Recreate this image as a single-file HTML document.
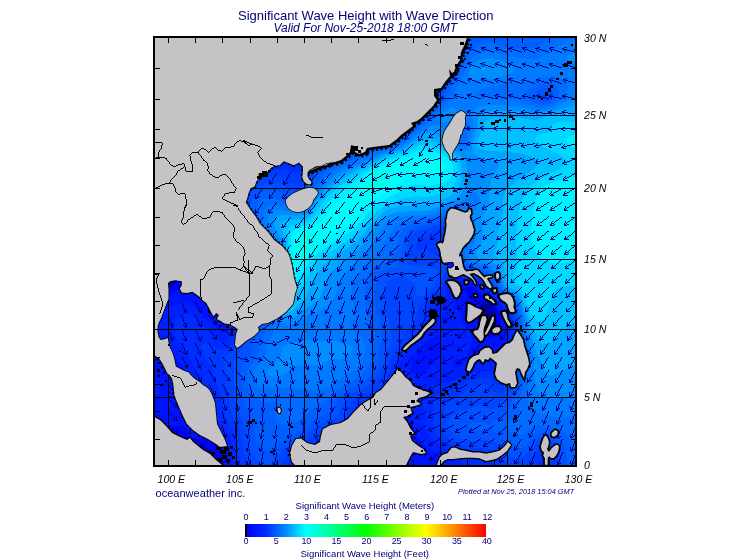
<!DOCTYPE html><html><head><meta charset="utf-8"><title>Significant Wave Height with Wave Direction</title>
<style>
html,body{margin:0;padding:0;background:#fff}
body{width:755px;height:560px;position:relative;overflow:hidden;font-family:"Liberation Sans",sans-serif;color:#000078}
.t{position:absolute;white-space:nowrap;line-height:1}
.i{font-style:italic;color:#000;font-size:10.6px}
.n{font-size:9px;letter-spacing:-0.2px;color:#000070;transform:translateX(-50%)}
#bar{position:absolute;left:245px;top:524px;width:241px;height:13px;background:linear-gradient(to right,#000 0,#000 2px,#0000ff 2px,#0028ff 20px,#008cff 41px,#00ffff 61px,#00ff80 91px,#00ff00 121px,#80ff00 151px,#ffff00 181px,#ff8000 211px,#ff0000 241px)}
</style></head><body>
<svg width="755" height="560" viewBox="0 0 755 560" style="position:absolute;left:0;top:0">
<defs><clipPath id="fr"><rect x="155" y="38" width="420" height="427"/></clipPath></defs>
<g clip-path="url(#fr)" shape-rendering="crispEdges">
<rect x="155" y="38" width="420" height="427" fill="#0000a0"/>
<path d="M433.5 36 577 36 577 466 217.7 466 216.8 456 215 452.8 211 450.1 203 448.4 191 448.5 185 447.9 167 441.7 153 439.8 153 296.1 165 290 173 285 185.5 276 187.6 274 190.2 270 191.5 266 192.3 260 193.2 230 195.3 214 197.3 206 200.1 198 203.9 190 207.6 184 215.7 174 225 165.7 237 158.1 249 152.9 265 149 293 146.3 303 144.6 329 137.6 367 128.8 381 124.1 389 119.9 399 112 408.8 102 416.9 92 423 82.2 427 73.8 430.4 64 432.3 54ZM484 302 481.5 304 480.4 306 480 308 481 312.5 485 320.7 487.3 324 491 326.4 493 326.6 495 326.1 496.3 324 497.1 320 496.6 316 495 311.2 493 307 490.9 304 487 301.8Z" fill="#0000ff" fill-rule="evenodd"/>
<path d="M435.7 36 577 36 577 466 385.3 466 382 464 379 463.6 373.6 464 367.4 466 221.9 466 221.6 456 221 452 219 448 217 445.8 213 443 203 439.2 193 437.8 189 436.6 186.2 434 182.2 428 179 426.1 173 425.8 153 427.4 153 302.9 169 294.8 179 288.9 183 287.3 187 286.6 191 286.6 201 289.2 203 289 203.3 284 198.7 242 198.4 232 198.8 222 200.6 210 203.6 200 208.1 190 213.3 182 220.2 174 229.6 166 239.5 160 251 155.1 259 152.8 267 151.3 293 149 303 147.2 329 139.5 369 129.9 381 125.9 391 120.6 399.2 114 411.1 102 419.1 92 425 82.4 429.1 74 432.6 64 434.5 54ZM466.4 288 465.4 290 465.9 294 467 296.4 471.2 302 475 316.1 477.5 322 480.9 328 489 338 491 338.4 497 336.4 499 334.7 500.2 332 501.3 324 500.6 316 499.3 312 497 307.6 492.7 302 489 299.3 483 296 473.8 288 471 286.8 469 286.7Z" fill="#0013ff" fill-rule="evenodd"/>
<path d="M441 36 577 36 577 466 440.9 466 441 460 439.6 456 437 453.2 427 446.9 420.3 440 417.5 436 414.4 430 411 417.9 409 412.9 407 410.2 405 408.6 403 407.8 401 407.8 395 410.6 389 415.3 383 421 367.4 438 359 445 349 450.8 321.5 462 317.5 464 315.2 466 228.7 466 227.5 450 226.8 446 225 441.2 222.8 438 212.5 428 209.2 424 192.5 396 187.8 386 183.8 370 181 364.1 175 357.6 164 352 161 349.9 159 347.7 157.1 344 156.1 338 156.5 332 158.1 322 159.4 318 161.7 314 165 310.6 168.9 308 179 302.9 183 301.9 189 303.1 197 307.9 205.2 318 212.3 324 219 331 221 332.2 223 332.7 225 332.3 227 330.7 229 327.6 230.2 324 230.9 318 229.8 308 215.8 260 212.1 244 210.3 232 209.8 222 210.5 212 212.8 202 215.9 194 222 184 229.2 176 239.6 168 251 162.2 259 159.5 269 157.4 291 156.2 299 155 329.5 144 361 136.2 377 131.4 386.1 128 393.2 124 402.8 116 415 103.7 422.9 94 429.2 84 435.1 72 438.5 62 439.7 54ZM460.8 282 456 284 454.4 286 453.7 288 453.5 292 455 306 455.6 308 457 309.9 461.6 314 462.1 316 461.9 322 469.5 332 471.4 336 472.2 340 471 345.9 467 355.7 465 357.7 455 359.5 453 361.7 453 364 454.3 366 457 367.5 459 367.4 461 366.5 467 360.5 471 360.3 487 362.1 493 360.7 497 357.1 503 347.3 505.6 342 506.7 336 506.6 324 505.7 316 503.6 310 499.4 304 493 297.6 476.3 284 473 282.4 469 281.5ZM442.3 318 441.7 322 443 324.9 445 323.8 446.4 322 447.4 320 447.6 318 447 317 445 316.1 443 317ZM434.9 336 429 340.2 417.5 352 413.1 358 411.2 364 411.3 368 413 372.5 415 374.1 419 374.1 423 372.4 427 369.2 440.8 356 441.7 354 441.9 350 439.7 336 439 335 437 335ZM155 381.2 159 384 160 386 160.5 392 159 396.4 157 398 153 398.7 153 380.7Z" fill="#0020ff" fill-rule="evenodd"/>
<path d="M446 36 577 36 577 466 467.4 466 457 459.2 445 449 435 442 429.5 436 427.2 432 425.8 428 424.2 412 421.8 402 421.7 398 422.2 396 424.6 392 429 388.3 435 384.9 439 383.7 449.8 382 471 372.7 475 371.4 483 370.6 493 371.9 497 371.7 499.3 370 503 363.4 507 353 509.7 344 510.5 336 509.6 318 508.1 312 504.9 306 485 286.8 479 282 475 280 471 278.7 459 277.5 453 278.5 451 279.8 449.2 282 447 287.2 444.3 298 442.7 300 435 306.8 431.8 312 430.6 316 428.8 326 426 332 405.9 354 401.6 360 396.2 372 391.9 386 387.8 394 383 400 371 412 358.8 428 352.9 434 347 438.4 341 441.8 304.7 458 299 462 296.4 466 234.5 466 232.2 444 230.8 438 228.4 434 221.8 426 218.2 420 215.9 414 213.2 402 211.6 398 202.3 384 188.6 356 177 340 175.3 336 174.4 330 174.6 324 175 322 177 318.6 181 315.6 187 314.1 191 314.8 193.3 316 200.5 324 208.2 330 215.5 338 221 341.5 225 341.7 229 339.2 232.9 334 235.7 328 236.9 324 237.5 318 236.8 308 226.9 260 221.4 236 219.6 224 219.5 216 220.3 208 222.4 200 225 194 230.1 186 237 178.7 245 172.7 255 167.6 263 165 271 163.5 279 163 293 163.6 299 162.6 305 160.1 319 152.8 329 148.7 339 145.5 361 140 380.4 134 389 130.7 395 127.3 405 118.9 419.9 104 426.4 96 432.8 86 439 74 443.1 64 444.6 56Z" fill="#002dff" fill-rule="evenodd"/>
<path d="M449.3 58 451.1 36 577 36 577 466 551.2 466 550.5 462 549 458 547 456.2 545 455.9 543 456.7 541 458.4 537 464 536.2 466 495.3 466 492.1 462 487 459 469 455 459 451.2 442.1 440 436.6 434 434 428 433.3 422 433.9 412 433 402 434.1 398 435.7 396 439 393.8 453 389.6 467 381.3 477 377.9 483 377.4 487 378.1 491 379.9 497 384.7 499 385.5 501 385.3 503 384.1 505.2 380 513 346 513.5 338 512.6 320 511 312 508.2 306 485.9 284 480.9 280 477 278 471 276.1 455 273.6 451 274.4 447 277.8 444.4 282 439 293.7 427.7 306 424.1 314 422.4 326 421 329.4 419 332 411 339.5 398.7 354 390.6 370 385.4 382 381.8 388 375 395.6 361 406.5 358.5 410 352.9 420 347 426.9 343 430.1 337 433.6 323 440 295.5 454 293 456 291 458.4 289 462 287.6 466 240.9 466 238 454 237 442 235.7 436 234 432 227.7 422 224.9 416 223.2 410 221 396 215.7 382 214.4 372 212.5 368 204.8 358 202.8 354 201 348 201 346 202 344 203 343.3 205 343.3 207 343.9 213 347.7 217 349.2 223 349.2 227 347.7 231 344.9 235 340 239.7 332 242.5 324 243.2 318 242.9 312 238.1 282 235.6 258 229.5 230 228.1 220 228.6 208 230 202 232.5 196 237 188.9 243 182.6 251 176.8 259 172.8 267 170.5 277 169.4 283.8 170 293 172.6 297 172.7 301 171 317 159.3 329 153.1 339 149.5 361 143.6 385 135.9 391 133.7 397 130.1 406.5 122 423.1 106 429.6 98 435 89.8 444.6 72 448.1 64Z" fill="#003aff" fill-rule="evenodd"/>
<path d="M456.4 36 577 36 577 466 556.7 466 555.8 456 553.6 450 551 447.3 549 446.2 545 445.6 543 446 539 448.5 531 458.4 523.4 466 510.2 466 503.4 460 497 453.1 493 450.1 487 448.6 471 447.8 463 445.9 457 443.3 451 439.7 446.3 436 443 432 440.9 426 441.2 420 445.9 406 449.3 402 459 396.3 469 389 477 385.6 481 385 485 385.3 487 386.2 493 391.5 497 393.1 501 392.7 503 391.7 507 388 509.2 384 510.4 380 515.1 356 516.2 346 516.1 338 514.8 318 512 308 509.7 304 499 294.6 487 281.6 482.5 278 478.5 276 473 274.2 455 269.5 451 269.1 449 269.4 447 270.6 445 272.9 435 291.6 424.3 302 419.8 308 416.8 314 413.5 324 405.8 332 401.7 342 393.8 352 389 363.3 379 381.4 375 386.4 369 391.7 357 398 353 401.1 351.2 404 347.2 414 342.9 420 339 423.4 335 425.9 321 432.3 305.8 442 290.7 450 288.3 452 285.3 456 280.8 466 249.2 466 244 454 240.9 436 239.3 430 232.4 416 229.8 408 226.5 386 224.2 364 224.6 360 225.4 358 228.7 354 236.6 346 243.1 336 246.9 328 248.2 322 248.1 312 244 282 243.1 252 237.4 228 236 218 236.3 208 237.7 202 239.4 198 243.2 192 251 184.6 259 179.6 267 176.9 275 175.8 281 176.4 287 179.1 295 184.8 297 185 299 184.2 313.4 168 321 162 327.8 158 341 152.7 361 147 391 137.1 395 135.3 399 132.6 426.1 108 431.1 102 437 93.5 452.3 66 453.7 60ZM439.1 228 429 233.2 422.3 236 419.9 238 416.4 244 416.1 248 417 250 419 250.7 425 250.1 427 250.7 437 256 439 256.2 441 255.3 443 252.7 449 241.9 450.4 238 450.8 234 449.5 230 447 227.6 443 227Z" fill="#0046ff" fill-rule="evenodd"/>
<path d="M462.2 36 577 36 577 466 561.1 466 560.8 456 558.9 448 557 444.7 555 442.5 553 441 549 439.2 543 438.6 539 440 536.7 442 529 451.1 525 454.9 519 457.8 515 457.9 511 456.4 509 455 499 445 493 441.1 487 440.1 473 440.8 466.4 440 461 438.2 456.6 436 453 433.5 449.9 430 448.3 426 448.5 422 451 416.9 455 413.2 459 411.4 467 409.8 477 405.9 481 405.9 489 408.6 493 409.1 497 407 505 398.6 511.1 390 514.3 382 518.8 356 519.1 346 516.9 318 514.2 308 512.5 304 510.9 302 500.7 294 489 280.4 485 276.7 479 273.6 461.1 268 455 264.6 452.3 262 450.8 258 450.9 254 455.7 238 455.8 232 454.6 228 451.1 224 449 222.9 445 222.4 441 223.3 431 227.3 421 229.4 417 230.9 415 232.2 411.4 236 409 240 407.6 244 406.2 258 407 262.8 409 265.5 413 266.6 423 265.4 429 265.7 434.8 268 437 270 437.7 272 437.1 276 433 286 430.1 290 423 295.7 419 297.6 417 297 416.4 296 415.9 288 414.4 284 411 280.5 407 278.1 405 277.3 401 277 394.3 278 389.8 280 387 283.6 384.2 294 383.8 302 385.4 310 390 324 392.2 340 390.8 344 387.5 348 386.6 350 386.6 356 385 361.1 379 372 375 377.8 369.4 384 365 387.5 353 393.1 348.5 396 345.3 400 339.8 412 335 417.3 330.6 420 319 425 303 437.1 287 446.2 282.6 450 275 460.1 271 463.4 267 464.7 265 464.4 261 462.8 257 460.1 253.3 456 249.2 448 247.1 440 244.9 426 237 407.7 235 400 234.3 394 233.5 366 234 360 236 356 242.8 348 250.4 334 252.9 328 253.8 322 253.3 314 250.2 294 249.4 284 249.5 274 251.2 256 251.1 250 249.8 244 245 228 243.2 216 243.5 208 245.8 200 249.8 194 255 189.2 261 185.5 269 183 275 182.5 279 183.1 283 184.6 289.5 190 293 191.9 297 192.2 299 191.6 303.7 188 312.5 176 317.8 170 323 165.6 329 161.7 341 156.3 361 150.4 379 143.8 391.8 140 399 136.4 429 110 439.4 96 456.7 66 460.4 44ZM545 93.7 542.5 96 544.1 98 545.8 98 547.6 96 547 94.4Z" fill="#0053ff" fill-rule="evenodd"/>
<path d="M471 36 577 36 577 466 567.8 466 566.1 452 563.7 444 561.2 440 559 437.8 555 435.2 551 433.5 545 432.2 539 432.9 535 435.3 525 445.5 521 448 517 448.8 513.9 448 511 446.1 495 431.1 489 427 483 429.3 479 430.1 474.2 430 468.8 428 468 426 470.5 424 477 421.7 482.7 422 489 425.1 491 424.6 501 417 508 410 510 406 512.4 398 516.1 390 518.1 384 519.8 370 522.2 358 521.9 346 518.9 318 514.9 304 511.7 300 505 295.5 501 292 491 279.2 487 275 481.6 272 465 266.7 460.5 264 458.4 262 456.3 258 456 254 456.7 250 460.3 238 460.7 234 460.3 230 459 226 456.3 222 453 219.5 449 218.4 443 219 431 223.8 417 226.5 410.3 230 406.6 234 404.4 238 403.3 242 400.5 260 398.8 264 395 267.2 385 270.3 381.3 272 378.8 274 377.3 276 376.1 280 374.8 300 375.7 306 379 318 382.6 338 382.4 340 378.9 348 379.4 356 378.9 360 375.1 368 371 374 365.5 380 361 383.5 349 389.2 343 393.5 337.5 400 332.9 408 329 412 315 419.4 305 428.1 299.6 432 291 437.4 281 442.2 271 448.9 267 449.9 263 448.8 259 445.3 256.1 440 255.2 436 254.6 428 253.4 422 251.1 416 245 403.8 242.8 398 241.3 390 240.6 380 240.8 372 242.1 366 244.4 362 249 357.2 250.8 354 252.8 344 258.1 332 259.6 326 259 318 255.1 296 254.2 284 255.1 272 258.6 256 259.3 250 258 244 252.5 230 250.9 222 250.2 210 250.8 206 252.1 202 255 197.4 259 193.8 263 191.5 269 190 273 189.9 277 190.8 286.4 196 291 197.5 295 197.7 299 196.8 303 194.5 305.7 192 316.1 178 321 172.5 326.2 168 331 164.8 337 161.7 345 158.5 363 152.9 381 145.8 395 141.8 401 138.4 431 112.8 442 98 452.1 80 459 69.7 465 48 467 43.1ZM543.3 88 539 90 536.7 92 535.3 94 535 96 535.6 98 539 101.1 543 102.4 547 102.1 550.9 100 552.5 98 553.4 96 553.4 92 552.2 90 549 87.9 547 87.5Z" fill="#0060ff" fill-rule="evenodd"/>
<path d="M548.9 40 553.6 36 577 36 577 452.2 575 449.4 569.5 438 566.4 434 561 430.4 551 426.8 543 425 539 425 535 425.9 530.6 428 523 434.4 519 435.6 517 435.5 512.8 434 509 431.1 507 428 506.8 426 507.6 424 509.4 422 517 416.4 519 412.3 519 400 522.4 386 523.5 370 525.6 360 525.5 352 520.2 316 516.8 304 515 300.6 512.2 298 503 291.8 489 273.3 487 271.7 483 269.8 469 265.7 465 263.5 461.6 260 460.7 258 460.3 254 461 250 465 238 465.3 234 464.6 228 462.5 222 459.7 218 455 215.1 451 214.4 447 214.5 443 215.5 431 220.7 419 222.5 413 223.9 408 226 405 227.9 401.1 232 399.1 236 396.9 248 395 255.2 393.5 258 391.5 260 389 261.4 379 264.7 375 266.5 370.4 270 367.7 274 365.7 282 364.7 298 368.5 314 369.3 326 372 336 372.6 342 372 356 371.3 360 368.7 366 365 371.3 359 377.2 341 387.6 323 402.4 309 411.2 299 420 296 422 291 424.3 287 425.1 283 425 279 423.2 276.4 420 274.5 414 275.2 410 277.4 406 277.7 404 277 402.8 275 402 269 403 265 402.5 261 401 257 398.5 253 394.8 249.9 390 248.3 386 247 380 246.9 374 247.8 370 249.9 366 254.9 360 257.3 356 258.7 352 260.2 344 265.3 332 266 328 265.3 322 260.1 300 259.1 292 258.8 284 259.4 276 260.5 270 262.3 264 267 252 267.7 248 266.7 244 259.5 232 257.7 226 257 220 257 210 257.7 206 259.7 202 263 199 265 198.1 269 197.5 273 198 281 201 285.5 202 293 202.7 299 201.8 305 198 309 193.7 322.8 176 327.1 172 333 167.8 345 162 363.1 156 381 148.4 396.2 144 401 141.5 423 123.1 431 117.3 434.4 114 447.4 96 455 81.5 461 72.5 465.4 60 468.3 54 471 50.4 475 47.1 483 44 491 43.1 497 44.1 509 48.6 513 48.7 523 47.7 533 48.1 539 46.1ZM540.6 84 528.4 90 525.6 92 524.5 94 525 96 526.8 98 532.2 102 539 104.8 543 105.2 547 104.7 553.2 102 556.9 98 558.6 94 558.8 90 557 86.1 553 83.3 549 82.3 545 82.6ZM460.6 130 459 131.5 458.3 134 459 137 461 137.4 463 134.2 463.4 132 463 129.9Z" fill="#006dff" fill-rule="evenodd"/>
<path d="M567 41.5 577 39 577 418.3 571 417.3 557 416.9 541 413.7 535 411.3 533 409.7 530.1 406 528.4 402 527.5 396 528.2 384 527.4 372 529.5 360 529.3 356 523.7 328 522.5 318 517.8 302 515 297.9 507 292.9 503.4 290 493 273.9 489 269.6 485 267.5 471.8 264 468.2 262 466.1 260 464.9 258 464.4 254 465.5 250 469.7 240 470.2 234 469.5 228 467.4 220 464.9 214 463 211.8 461 210.7 457.5 210 453 210 447 211 443 212.2 431 217.7 409 220.8 403 222.4 399 224.3 394.5 228 386.8 238 384.4 242 380.6 252 376.5 256 365.4 264 361.6 268 358.9 272 354.5 280 351.9 288 351.5 294 352.1 300 355.8 314 355 316.9 351.4 322 350.6 324 350.6 326 352.7 330 361 336.8 363 339.3 364.8 344 365.1 348 364.4 354 362.4 360 359 365.7 355 369.8 341 378.5 331 385.8 325 388.4 319 389.7 313 390 287 388.4 267 388.6 261 387.1 257 384.1 255 381.2 253.8 378 253.7 372 255.6 368 262.8 360 265.2 356 268.2 344 273 334 273.9 330 273 326 268.3 314 265.4 304 263.7 294 263.2 284 263.9 276 265.9 268 268.3 262 274.8 250 275.7 246 275.3 244 274 242 268.3 236 265.4 232 263.1 226 262.5 222 262.6 216 263.2 212 265 207.8 267 205.9 271 204.8 293 207.1 297 206.9 301 205.9 304.2 204 307 201.4 325 178.8 330.3 174 335 170.7 348.6 164 365 158.2 383 150.2 397.4 146 403 143 425 125.2 435 118.8 437 116.6 442.4 108 454.4 94 458.1 84 464 74 468.6 62 471 58.6 475 55.4 483 52.8 491 51.8 497 52.6 507 56.2 511 57.1 531 59.1 537 58.9 543.9 56 561.5 44ZM546.9 76 541 77.4 535 80.2 531 81.4 525 82 509 82.3 497 85.7 483 87.9 479.4 90 475.4 94 475 95 471.9 96 468.6 98 469 98.8 471 98.6 472.2 98 473 96.7 477 96.2 483 96.9 493 99.1 509 99.3 517 101 537 107.5 543 107.7 549 106.6 555.5 104 560.4 100 566.2 92 567.8 88 568.1 86 567.7 84 566.4 82 561 78.3 555 76.3ZM460.5 120 455.4 124 451.8 128 450.8 130 450.4 134 451.6 138 454.3 142 457 144.5 461 146 463 145.5 465 143.5 469 133.1 469.7 128 469 124.5 467 120.9 465 119.3 463 119Z" fill="#007aff" fill-rule="evenodd"/>
<path d="M577 49.9 577 63.4 570 62 567.1 60 566.6 58 567.3 56 568.8 54 573 51.1ZM479 59.8 489 58.2 493 58.4 499 59.7 505 62 511.8 66 514 68 514.2 70 512.1 72 508.6 74 499 77.6 493 78.6 471 80.4 470.1 80 469 78 469.2 72 470.2 68 473 63.6 475 61.8ZM573 97.6 577 96.1 577 397.3 565 396.6 551 398.4 547 398.5 543 397.6 541 396.5 539 394.4 537 389.7 533.4 374 533.1 370 533.8 362 533.3 358 525.8 328 524.3 318 518.6 300 515 295.4 507 290.9 504 288 495 271.7 491 266.8 485 264 475 262 471.3 260 469.7 258 469 256 469.1 254 470.6 250 474 244 475.6 238 475.6 232 473.3 218 473.5 214 474.9 210 478 204 478.9 200 477.5 194 475 191.3 473 191.6 471 193 465 199.2 461 202.1 443 208.7 433 213.6 427 214.9 401 216.8 396.4 218 391 220.8 384.4 226 379 231.7 371.4 246 368.6 250 353.1 264 345.9 272 341 280 334 298 329.9 304 327 306.9 321 310.5 307 315.3 299 322 295 323.9 289 324.8 285 324.6 281 323.2 277 319.4 272.8 312 269.6 302 267.9 292 267.6 282 268.7 274 270.4 268 273 262 279.7 250 280.9 246 280.7 244 279 240.4 271.3 232 268.2 226 267.5 222 267.6 218 269 214 271 211.9 273 210.9 277 210.2 295 211.4 299 211.2 303 210.1 306.1 208 309 204.8 318.3 192 325 184 331 178.1 336.4 174 347.4 168 367 160.2 381 153.4 401 146.8 427 127.8 431 125.8 437 124.7 439 124.6 441 125.4 443 132 444.9 136 447.5 140 451 144 455 147.3 459 149.7 463 150.8 465 150.5 467.2 148 473.2 130 473.3 124 472.1 116 472.6 112 475 108.8 479 106.5 487 105.2 511 105.6 521 106.9 535 110.6 541 110.5 551 108.5 557 106.6ZM449 107.7 453 106.7 455 107.8 456 110 455.5 114 453 118 451 119.8 447 122.2 443 123.1 442.1 122 442 120 443.2 114 445 111ZM303 340 309 339.8 321 341.5 333 340.8 339.9 342 347.2 344 350.8 346 351.9 348 351.8 350 351 352.3 349 355 347 356.7 343 358.6 339 359.2 331 359.2 321 364 317 364.9 305 364.3 299 365.2 295 366.9 284.9 374 279 376.3 275 376.8 271 376.4 269 375.6 267.3 374 266.9 372 269.3 368 279.7 358 281 356 282.6 348 284.1 346 287 344.7 295 343Z" fill="#008dff" fill-rule="evenodd"/>
<path d="M481 67.9 483 67.4 486.5 68 485 70 483 70.3 480.8 70ZM559 109.7 577 104.5 577 365.3 573 367.4 563 370.5 555 374.2 551 375.2 549 375.1 547 374.4 545 372.9 543.2 370 540.3 360 536.2 352 527.7 326 526.3 318 523.3 310 521.4 302 519 296.9 515 292.6 509 289.9 506.5 288 505 286.1 497.6 268 495 264.4 489 260.7 478.7 258 476 256 475.8 254 476.5 252 480.3 246 482.6 240 482.9 234 481.9 222 482.1 218 483 215.4 487.3 208 488.5 204 489.2 198 489.4 188 490.1 184 493 176.6 498.2 168 498.7 166 498.3 164 496.7 162 495 161.1 483 159.1 477 156.7 475 155.1 473 152.1 472 146 472.6 142 476.4 132 478.7 116 480.2 114 483 112.3 487 111.1 493 110.4 517 110.9 523 111.7 531 113.9 537 114.3ZM429 131.8 431 131.4 433 131.6 435 132.8 445.9 144 462 156 465 160 466 162 466.8 166 466.4 180 464.2 188 460.7 194 457 197.6 453.2 200 431 210 423 211 399 211.7 393 213.2 387 216.1 381 220.9 374.3 228 365 242.1 361 247 344 260 337.2 266 333.5 270 328.2 278 321.4 294 319.3 298 317 300.7 312.7 304 303 309.8 296.4 316 293 318.3 291 318.9 287 318.8 283 317 279 312.5 276 306 273.3 296 272.2 288 272.3 278 274 270 276.2 264 282.9 250 283.8 246 283.4 242 282.7 240 275.8 230 273.9 226 273.3 222 274.4 218 277 215.8 281 214.8 297 215.6 301 215.3 305.4 214 309 211 317.7 198 325 189 332 182 339 176.7 350.7 170 367 162.9 383 155 399 150 403 148.3 415 139.9Z" fill="#00a6ff" fill-rule="evenodd"/>
<path d="M549 115.1 577 112.1 577 321.9 573 322.8 569 324.9 555 339.8 549 343.6 545 344.6 543 344.2 541 343 537.1 338 535 332 531 325.6 529 318 525.4 310 523.6 302 520 294 517 290.7 509 286.9 507 284.1 504.8 274 504.3 266 502.2 262 495.8 256 494.5 254 494.3 252 497.1 246 498.1 242 498.6 230 502.3 216 503.1 200 503.7 196 505 192.4 507 189.5 510.8 186 534.6 168 536.4 166 537.4 164 537.1 162 535.4 160 532.7 158 529 156 523 154 503 150.9 487 150.8 483 150.2 478.7 148 477.4 146 476.9 144 477.2 142 484 124 487 120 490.8 118 495 117.3 507 118 519 117.4 529 119.5 535 119.8 539 119.1ZM423 139.8 429 138.6 433 139.9 453 153.1 458.4 158 461.2 164 461.9 172 460.7 182 459.4 186 457 190.3 453.2 194 450.1 196 439 201.8 433 204 425 205.4 407 205.6 397 206.7 389 209.2 383 212.7 377 217.9 371.2 224 357 241.3 327.2 262 323 265.6 319.7 270 316.2 276 305.8 298 293 310.4 291 311.7 289 312 287 311.2 284.1 308 281 302 278 292 276.7 284 276.9 276 278 270 284.9 252 286.1 246 285.9 242 285 238.1 280.9 228 280.9 224 282.1 222 287 220.2 301 219.2 307 217.6 311.3 214 319 201.8 325 194.1 333 186.1 341 179.9 354.1 172 381.9 158 387 155.8 403 150.8 415 143.3Z" fill="#00c0ff" fill-rule="evenodd"/>
<path d="M561 121.9 577 121.8 577 286.6 569 285.8 565 285.9 561 286.8 557 288.9 554.3 292 551.1 298 547.9 310 545 316.6 543 319.2 541 320.4 539 320.7 537 320.2 535 318.8 529 310.8 526.2 300 521.9 290 519 286.7 514.4 284 512.6 282 513 277.1 515.9 270 516.8 266 516.3 234 516.8 224 518.7 212 521.4 202 524.9 194 529 188 532.8 184 537 180.7 557.9 170 566.2 164 567.6 162 566.7 160 557.9 154 541.7 146 536.9 142 535.3 140 535.3 138 537.3 136 547 131.9 549 130.6 553.5 124 557 122.4ZM419 145.5 425 144.3 431 145.2 443 150.6 451 155.5 453.9 158 455.4 160 457 164 457.7 172 456.2 180 455 183.4 453 186.6 449 189.8 435 195.6 427 196.9 415 196.1 411 196.6 391 202.7 383 206.9 374.4 214 357 233.1 353 236.7 333.7 250 323 256.1 318 260 310.5 270 301 287.3 297 293.1 293 295.5 291 295.8 289 295.2 287 293.6 285 290.9 283 286.4 281.9 282 281.5 276 282.6 268 287.7 250 288.2 242 287.3 232 287.5 230 289 227.1 293 224.9 305 221.9 311 219 315.5 214 323.2 202 331 193.3 341 184.9 357.6 174 383.2 160 389 157.7 405 152.8Z" fill="#00d9ff" fill-rule="evenodd"/>
<path d="M571 135.6 577 134.5 577 148.5 573 147.5 570.3 146 568.2 144 567.2 142 567 140 567.8 138ZM421 149.9 427 149.8 437 152.4 444.8 156 450.1 160 452.4 164 453.1 170 451.7 176 449 180.2 445 182.7 431 185.6 425 185.5 415 184.3 411 184.9 407 186.8 399 192.2 385 199.6 377 205.2 371.4 210 359 223.6 352.3 230 331 244.4 323 249.1 317 254 309 262.4 299 278 297 280.3 295 281.7 293 282.3 291 281.9 289 280.2 287 275.6 286.9 268 289.8 252 291.1 236 292.6 232 294.4 230 299 227.4 311 222.9 315 220.2 320.2 214 327 203.9 332.4 198 341 190.9 353 182.8 364.5 174 377.4 166 385 162 407 155.5 417 151ZM569 177.7 577 176.5 577 259 567 262.1 561 263.1 555 263 549 262 543 259.8 539 256.9 535.5 252 533 245.1 531.6 236 531.4 228 533.1 212 534.8 202 536.9 196 539.1 192 542.5 188 545.1 186 555 181.1Z" fill="#00f2ff" fill-rule="evenodd"/>
<path d="M417 157.6 425 156.5 431 157.2 437 158.6 440.3 160 443 162 445 165.6 445 168.4 444.3 170 442.4 172 437 174.3 429 175.4 413 175.5 409 176.2 405 177.9 395 186.4 367 205.2 364 208 357 217.3 352.4 222 347 226.1 335 232.3 329 236.4 319 244.8 312.8 252 304.4 260 299 266.3 297 268.1 295 268.8 294.2 268 293 266.1 292.4 262 292.8 244 294.2 238 297 233.7 302.7 230 315 225.5 320.7 222 324.4 218 331 208 335 203.5 341 198.9 355 190.2 366 178 379.6 168 383.2 166 389 163.9 407 160.7Z" fill="#00fff6" fill-rule="evenodd"/>
<path d="M385 169.3 389 168.5 391 168.6 394 170 395 172 395 174 393 178.8 389 182.6 375 191.5 371 192.5 368.9 192 367.5 190 367.4 188 368.7 184 370.1 182 377.9 174 381 171.5ZM305 233.9 309 232.7 313 232.6 315.4 234 316 236 315.7 238 313.2 244 309 249.6 303 254 301 254.9 299 255.1 297 252.7 296.4 250 296 246 296.7 242 299 238 301.2 236Z" fill="#00ffe6" fill-rule="evenodd"/>
</g>
<g clip-path="url(#fr)">
<path d="M168.0 425.1L177.4 433.9M172.9 432.8L177.4 433.9L176.1 429.5M168.0 411.4L177.2 420.5M172.7 419.3L177.2 420.5L176.0 416.1M168.0 397.8L177.2 406.9M172.7 405.7L177.2 406.9L176.0 402.5M168.0 384.1L176.5 393.9M172.2 392.4L176.5 393.9L175.6 389.3M168.0 329.0L172.8 341.2M169.2 338.3L172.8 341.2L173.5 336.6M168.0 315.1L172.5 327.4M169.0 324.5L172.5 327.4L173.3 322.9M181.6 425.1L190.6 434.3M186.2 433.0L190.6 434.3L189.5 429.8M181.6 356.6L187.7 368.2M183.8 365.7L187.7 368.2L187.9 363.6M181.6 342.8L186.9 354.9M183.2 352.2L186.9 354.9L187.4 350.3M181.6 329.0L186.1 341.4M182.6 338.5L186.1 341.4L186.9 336.9M181.6 315.1L186.2 327.5M182.7 324.5L186.2 327.5L187.0 322.9M181.6 301.2L186.0 313.4M182.5 310.5L186.0 313.4L186.8 308.9M195.2 438.7L204.8 447.2M200.3 446.3L204.8 447.2L203.4 442.9M195.2 370.4L201.7 381.8M197.8 379.4L201.7 381.8L201.8 377.2M195.2 356.6L200.8 368.6M197.0 366.0L200.8 368.6L201.2 364.0M195.2 342.8L200.7 354.9M197.0 352.2L200.7 354.9L201.2 350.3M195.2 329.0L200.8 341.0M197.0 338.4L200.8 341.0L201.2 336.4M195.2 315.1L201.0 327.0M197.2 324.4L201.0 327.0L201.3 322.4M195.2 301.2L201.1 312.7M197.3 310.2L201.1 312.7L201.4 308.1M208.8 384.1L215.4 395.5M211.4 393.2L215.4 395.5L215.4 390.9M208.8 370.4L215.6 381.7M211.6 379.5L215.6 381.7L215.5 377.1M208.8 356.6L215.5 368.1M211.5 365.8L215.5 368.1L215.5 363.5M208.8 342.8L215.5 354.3M211.5 352.0L215.5 354.3L215.5 349.7M208.8 329.0L216.4 339.7M212.2 337.8L216.4 339.7L216.0 335.1M208.8 315.1L217.1 325.1M212.8 323.5L217.1 325.1L216.3 320.5M222.4 452.4L229.1 463.4M225.0 461.1L229.1 463.4L229.0 458.8M222.4 425.1L225.5 437.9M222.3 434.6L225.5 437.9L226.8 433.5M222.4 411.4L225.2 424.4M222.1 421.0L225.2 424.4L226.6 420.0M222.4 397.8L225.8 410.6M222.6 407.4L225.8 410.6L227.0 406.2M222.4 384.1L228.4 396.1M224.5 393.5L228.4 396.1L228.6 391.5M222.4 370.4L230.2 381.3M226.0 379.4L230.2 381.3L229.7 376.7M222.4 356.6L231.0 366.9M226.7 365.3L231.0 366.9L230.2 362.3M222.4 342.8L232.8 350.9M228.3 350.3L232.8 350.9L231.1 346.6M222.4 329.0L233.3 336.0M228.7 335.8L233.3 336.0L231.2 331.9M236.0 452.4L237.6 465.5M234.9 461.9L237.6 465.5L239.4 461.3M236.0 438.7L236.3 452.0M233.9 448.1L236.3 452.0L238.5 448.0M236.0 425.1L234.8 438.5M232.9 434.3L234.8 438.5L237.5 434.7M236.0 411.4L236.2 425.0M233.9 421.1L236.2 425.0L238.5 421.0M236.0 397.8L238.2 411.2M235.3 407.7L238.2 411.2L239.8 406.9M236.0 384.1L240.8 396.8M237.3 393.9L240.8 396.8L241.6 392.3M236.0 370.4L244.9 380.7M240.5 379.2L244.9 380.7L244.0 376.2M236.0 356.6L249.0 360.8M244.5 361.8L249.0 360.8L245.9 357.4M249.6 452.4L247.2 465.7M245.7 461.4L247.2 465.7L250.2 462.2M249.6 438.7L247.4 452.2M245.8 447.9L247.4 452.2L250.3 448.7M249.6 425.1L247.5 438.6M245.8 434.3L247.5 438.6L250.4 435.0M249.6 411.4L248.8 425.2M246.7 421.0L248.8 425.2L251.3 421.3M249.6 397.8L250.1 411.6M247.6 407.7L250.1 411.6L252.2 407.5M249.6 384.1L252.6 397.7M249.5 394.3L252.6 397.7L254.0 393.3M249.6 370.4L256.6 382.4M252.6 380.1L256.6 382.4L256.6 377.8M249.6 356.6L262.8 360.4M258.3 361.5L262.8 360.4L259.6 357.1M249.6 342.8L263.2 341.6M259.5 344.3L263.2 341.6L259.1 339.7M249.6 202.1L241.7 213.3M242.1 208.8L241.7 213.3L245.9 211.4M263.2 452.4L260.6 465.8M259.1 461.5L260.6 465.8L263.6 462.4M263.2 438.7L260.3 452.2M258.9 447.9L260.3 452.2L263.4 448.8M263.2 425.1L260.9 438.7M259.3 434.4L260.9 438.7L263.8 435.2M263.2 411.4L261.7 425.2M259.9 421.0L261.7 425.2L264.4 421.5M263.2 397.8L262.9 411.7M260.7 407.7L262.9 411.7L265.3 407.8M263.2 384.1L264.5 398.1M261.8 394.3L264.5 398.1L266.4 393.9M263.2 370.4L266.9 384.0M263.6 380.8L266.9 384.0L268.1 379.6M263.2 356.6L273.9 365.6M269.4 364.8L273.9 365.6L272.4 361.3M263.2 342.8L277.0 344.5M272.8 346.3L277.0 344.5L273.4 341.8M263.2 329.0L274.5 321.1M272.6 325.2L274.5 321.1L269.9 321.5M263.2 216.5L254.7 227.7M255.3 223.1L254.7 227.7L258.9 225.9M263.2 202.1L255.2 213.6M255.6 209.0L255.2 213.6L259.4 211.7M263.2 187.7L255.4 198.9M255.8 194.3L255.4 198.9L259.5 196.9M276.8 452.4L274.4 465.8M272.9 461.5L274.4 465.8L277.4 462.3M276.8 438.7L274.3 452.3M272.7 448.0L274.3 452.3L277.3 448.8M276.8 425.1L274.5 438.8M272.9 434.5L274.5 438.8L277.4 435.2M276.8 397.8L276.4 411.7M274.2 407.6L276.4 411.7L278.8 407.7M276.8 384.1L277.7 398.2M275.1 394.3L277.7 398.2L279.7 394.1M276.8 370.4L279.8 384.3M276.7 380.9L279.8 384.3L281.2 379.9M276.8 356.6L287.8 365.5M283.3 364.8L287.8 365.5L286.2 361.2M276.8 342.8L289.7 337.1M287.0 340.8L289.7 337.1L285.1 336.6M276.8 329.0L281.6 315.8M282.4 320.3L281.6 315.8L278.1 318.7M276.8 230.8L268.1 242.2M268.7 237.7L268.1 242.2L272.3 240.5M276.8 216.5L267.6 227.5M268.4 223.0L267.6 227.5L271.9 225.9M276.8 202.1L268.5 213.3M269.0 208.8L268.5 213.3L272.7 211.5M276.8 187.7L269.0 198.9M269.4 194.3L269.0 198.9L273.1 196.9M276.8 173.1L269.5 184.4M269.8 179.8L269.5 184.4L273.6 182.3M290.4 438.7L288.5 452.4M286.8 448.1L288.5 452.4L291.3 448.7M290.4 425.1L288.5 438.8M286.8 434.6L288.5 438.8L291.3 435.2M290.4 411.4L289.2 425.3M287.3 421.2L289.2 425.3L291.9 421.5M290.4 397.8L290.7 411.7M288.3 407.8L290.7 411.7L292.9 407.7M290.4 384.1L292.0 398.1M289.3 394.4L292.0 398.1L293.8 393.9M290.4 370.4L292.8 384.4M289.8 380.8L292.8 384.4L294.4 380.0M290.4 356.6L293.1 370.6M290.1 367.1L293.1 370.6L294.6 366.2M290.4 342.8L304.0 347.0M299.5 348.0L304.0 347.0L300.8 343.6M290.4 329.0L290.4 314.9M292.7 318.9L290.4 314.9L288.1 318.9M290.4 315.1L277.4 321.5M279.9 317.7L277.4 321.5L282.0 321.8M290.4 245.0L282.2 257.4M282.5 252.8L282.2 257.4L286.3 255.4M290.4 230.8L281.8 242.7M282.3 238.2L281.8 242.7L286.0 240.9M290.4 216.5L281.7 228.0M282.3 223.5L281.7 228.0L285.9 226.2M290.4 187.7L282.8 198.9M283.1 194.3L282.8 198.9L286.9 196.9M290.4 173.1L283.7 184.7M283.7 180.1L283.7 184.7L287.7 182.4M304.0 438.7L301.9 452.1M300.3 447.8L301.9 452.1L304.8 448.5M304.0 425.1L302.2 438.8M300.4 434.5L302.2 438.8L305.0 435.1M304.0 411.4L303.0 425.3M301.0 421.2L303.0 425.3L305.6 421.5M304.0 397.8L305.1 411.7M302.5 407.9L305.1 411.7L307.1 407.5M304.0 384.1L307.7 397.7M304.4 394.5L307.7 397.7L308.8 393.3M304.0 370.4L307.3 384.1M304.1 380.8L307.3 384.1L308.6 379.7M304.0 356.6L307.9 370.3M304.6 367.1L307.9 370.3L309.0 365.8M304.0 342.8L308.9 356.2M305.3 353.2L308.9 356.2L309.7 351.7M304.0 329.0L299.4 342.4M298.5 337.8L299.4 342.4L302.9 339.3M304.0 315.1L294.7 325.9M295.6 321.3L294.7 325.9L299.0 324.4M304.0 301.2L297.9 314.4M297.5 309.8L297.9 314.4L301.6 311.7M304.0 287.3L297.3 300.2M297.1 295.6L297.3 300.2L301.2 297.7M304.0 273.3L296.8 286.1M296.8 281.5L296.8 286.1L300.8 283.8M304.0 259.2L296.1 271.9M296.2 267.3L296.1 271.9L300.1 269.7M304.0 245.0L295.9 257.9M296.1 253.3L295.9 257.9L300.0 255.8M304.0 230.8L295.6 243.2M295.9 238.6L295.6 243.2L299.7 241.2M304.0 216.5L295.7 228.3M296.1 223.8L295.7 228.3L299.9 226.4M317.6 438.7L315.4 452.0M313.8 447.7L315.4 452.0L318.3 448.4M317.6 425.1L315.6 438.5M313.9 434.3L315.6 438.5L318.5 434.9M317.6 411.4L316.5 425.2M314.5 421.1L316.5 425.2L319.1 421.4M317.6 397.8L318.7 411.7M316.1 407.9L318.7 411.7L320.7 407.5M317.6 384.1L320.8 397.8M317.7 394.4L320.8 397.8L322.1 393.4M317.6 370.4L321.0 384.1M317.8 380.8L321.0 384.1L322.3 379.7M317.6 356.6L321.3 370.3M318.0 367.1L321.3 370.3L322.5 365.9M317.6 342.8L318.9 357.0M316.3 353.2L318.9 357.0L320.8 352.8M317.6 329.0L314.5 342.8M313.2 338.4L314.5 342.8L317.7 339.4M317.6 315.1L311.6 328.0M311.2 323.4L311.6 328.0L315.4 325.4M317.6 301.2L311.4 314.1M311.0 309.6L311.4 314.1L315.2 311.6M317.6 287.3L311.3 300.2M311.0 295.6L311.3 300.2L315.1 297.7M317.6 273.3L310.8 286.0M310.6 281.4L310.8 286.0L314.7 283.6M317.6 259.2L310.1 271.8M310.2 267.2L310.1 271.8L314.1 269.5M317.6 245.0L309.6 257.7M309.8 253.1L309.6 257.7L313.7 255.5M317.6 230.8L309.2 243.3M309.5 238.7L309.2 243.3L313.3 241.3M317.6 216.5L308.9 228.5M309.4 223.9L308.9 228.5L313.1 226.6M317.6 202.1L308.5 213.4M309.2 208.9L308.5 213.4L312.8 211.8M317.6 187.7L308.4 198.3M309.3 193.8L308.4 198.3L312.8 196.8M317.6 173.1L308.7 183.5M309.5 179.0L308.7 183.5L313.0 182.0M331.2 411.4L329.3 425.1M327.6 420.8L329.3 425.1L332.1 421.4M331.2 397.8L332.2 411.6M329.6 407.8L332.2 411.6L334.2 407.4M331.2 384.1L334.8 397.7M331.6 394.4L334.8 397.7L336.0 393.2M331.2 370.4L335.1 384.0M331.8 380.8L335.1 384.0L336.2 379.5M331.2 356.6L334.3 370.5M331.2 367.1L334.3 370.5L335.7 366.1M331.2 342.8L332.2 357.0M329.6 353.2L332.2 357.0L334.2 352.9M331.2 329.0L328.8 342.8M327.2 338.5L328.8 342.8L331.8 339.3M331.2 315.1L326.8 328.6M325.9 324.1L326.8 328.6L330.3 325.5M331.2 301.2L325.6 314.3M325.1 309.7L325.6 314.3L329.3 311.5M331.2 287.3L325.1 300.2M324.7 295.6L325.1 300.2L328.9 297.6M331.2 273.3L324.5 285.9M324.3 281.3L324.5 285.9L328.4 283.5M331.2 259.2L323.8 271.7M323.9 267.1L323.8 271.7L327.8 269.4M331.2 245.0L323.4 257.6M323.5 253.0L323.4 257.6L327.4 255.4M331.2 230.8L323.0 243.4M323.3 238.8L323.0 243.4L327.1 241.3M331.2 216.5L322.6 228.8M323.0 224.3L322.6 228.8L326.8 226.9M331.2 202.1L321.6 213.5M322.4 209.0L321.6 213.5L326.0 212.0M331.2 187.7L320.8 197.8M322.0 193.3L320.8 197.8L325.2 196.6M331.2 173.1L321.5 183.3M322.6 178.8L321.5 183.3L325.9 182.0M344.8 411.4L344.1 424.9M342.0 420.8L344.1 424.9L346.6 421.1M344.8 397.8L346.0 411.4M343.3 407.6L346.0 411.4L347.9 407.2M344.8 384.1L347.8 397.7M344.7 394.3L347.8 397.7L349.2 393.3M344.8 370.4L348.6 383.9M345.3 380.7L348.6 383.9L349.7 379.5M344.8 356.6L348.5 370.3M345.2 367.1L348.5 370.3L349.7 365.9M344.8 342.8L346.2 356.9M343.5 353.2L346.2 356.9L348.1 352.7M344.8 329.0L343.3 343.0M341.4 338.8L343.3 343.0L346.0 339.3M344.8 315.1L341.0 328.7M339.8 324.2L341.0 328.7L344.3 325.5M344.8 301.2L339.6 314.4M338.9 309.8L339.6 314.4L343.2 311.5M344.8 287.3L338.8 300.0M338.4 295.5L338.8 300.0L342.5 297.4M344.8 273.3L337.9 285.7M337.8 281.1L337.9 285.7L341.9 283.3M344.8 259.2L337.5 271.5M337.5 266.9L337.5 271.5L341.5 269.3M344.8 245.0L337.0 257.4M337.2 252.8L337.0 257.4L341.1 255.2M344.8 230.8L336.9 243.4M337.1 238.9L336.9 243.4L341.0 241.3M344.8 216.5L336.8 229.3M337.0 224.7L336.8 229.3L340.9 227.2M344.8 202.1L335.8 214.1M336.3 209.6L335.8 214.1L340.0 212.3M344.8 187.7L334.6 198.4M335.7 194.0L334.6 198.4L339.0 197.1M344.8 173.1L334.5 183.1M335.8 178.7L334.5 183.1L339.0 182.0M358.4 397.8L358.6 411.2M356.3 407.3L358.6 411.2L360.9 407.2M358.4 384.1L361.3 397.6M358.2 394.1L361.3 397.6L362.7 393.2M358.4 370.4L361.6 384.0M358.5 380.6L361.6 384.0L362.9 379.6M358.4 356.6L361.4 370.4M358.3 367.0L361.4 370.4L362.8 366.0M358.4 342.8L359.5 356.9M356.9 353.2L359.5 356.9L361.5 352.8M358.4 329.0L357.0 342.9M355.1 338.7L357.0 342.9L359.7 339.2M358.4 315.1L354.8 328.7M353.6 324.3L354.8 328.7L358.0 325.5M358.4 301.2L353.4 314.3M352.7 309.8L353.4 314.3L357.0 311.4M358.4 287.3L351.9 299.7M351.7 295.1L351.9 299.7L355.8 297.2M358.4 273.3L351.0 285.2M351.1 280.6L351.0 285.2L355.0 283.0M358.4 259.2L350.4 270.9M350.8 266.3L350.4 270.9L354.6 268.9M358.4 245.0L350.3 257.0M350.7 252.4L350.3 257.0L354.5 255.0M358.4 230.8L350.6 243.2M350.8 238.7L350.6 243.2L354.7 241.1M358.4 216.5L349.9 228.8M350.2 224.2L349.9 228.8L354.0 226.8M358.4 202.1L349.6 214.3M350.0 209.7L349.6 214.3L353.8 212.4M358.4 187.7L347.7 198.2M349.0 193.7L347.7 198.2L352.2 197.0M358.4 173.1L347.5 182.9M348.9 178.6L347.5 182.9L352.0 182.0M358.4 158.5L348.2 168.2M349.5 163.8L348.2 168.2L352.7 167.1M372.0 384.1L372.0 397.6M369.7 393.6L372.0 397.6L374.3 393.6M372.0 370.4L373.4 384.0M370.7 380.3L373.4 384.0L375.3 379.8M372.0 356.6L374.4 370.3M371.5 366.7L374.4 370.3L376.0 365.9M372.0 342.8L373.2 356.7M370.5 352.9L373.2 356.7L375.1 352.5M372.0 329.0L371.0 342.8M369.0 338.7L371.0 342.8L373.6 339.0M372.0 315.1L369.3 328.7M367.8 324.3L369.3 328.7L372.3 325.3M372.0 301.2L367.3 314.2M366.5 309.7L367.3 314.2L370.8 311.2M372.0 287.3L365.7 299.6M365.4 295.0L365.7 299.6L369.5 297.1M372.0 273.3L363.2 283.9M364.0 279.4L363.2 283.9L367.5 282.3M372.0 259.2L363.2 270.1M363.9 265.6L363.2 270.1L367.5 268.5M372.0 245.0L363.6 256.5M364.1 251.9L363.6 256.5L367.8 254.6M372.0 230.8L363.3 242.2M363.9 237.7L363.3 242.2L367.5 240.5M372.0 216.5L361.7 227.0M362.9 222.5L361.7 227.0L366.2 225.7M372.0 202.1L359.7 210.7M361.7 206.5L359.7 210.7L364.3 210.3M372.0 187.7L359.3 196.0M361.4 191.9L359.3 196.0L363.9 195.7M372.0 173.1L359.9 182.0M361.8 177.8L359.9 182.0L364.5 181.5M372.0 158.5L361.1 167.7M362.7 163.3L361.1 167.7L365.6 166.9M385.6 370.4L383.6 383.6M381.9 379.4L383.6 383.6L386.5 380.0M385.6 356.6L385.4 370.3M383.1 366.3L385.4 370.3L387.7 366.3M385.6 342.8L386.2 356.6M383.8 352.7L386.2 356.6L388.3 352.5M385.6 329.0L385.2 342.7M383.0 338.6L385.2 342.7L387.6 338.8M385.6 315.1L384.4 328.7M382.5 324.6L384.4 328.7L387.0 325.0M385.6 301.2L383.2 314.6M381.7 310.3L383.2 314.6L386.2 311.1M385.6 287.3L380.9 300.0M380.1 295.5L380.9 300.0L384.5 297.1M385.6 273.3L373.8 280.1M376.1 276.1L373.8 280.1L378.4 280.1M385.6 259.2L375.7 269.1M376.9 264.6L375.7 269.1L380.2 267.9M385.6 245.0L377.0 256.1M377.6 251.5L377.0 256.1L381.2 254.3M385.6 230.8L376.1 241.3M377.1 236.8L376.1 241.3L380.5 239.9M385.6 216.5L374.6 225.7M376.2 221.4L374.6 225.7L379.1 224.9M385.6 202.1L371.0 204.2M374.6 201.4L371.0 204.2L375.3 205.9M385.6 187.7L371.3 192.4M374.4 189.0L371.3 192.4L375.8 193.4M385.6 173.1L372.4 180.8M374.7 176.8L372.4 180.8L377.0 180.8M385.6 158.5L373.9 167.3M375.7 163.1L373.9 167.3L378.5 166.8M399.2 356.6L395.6 369.3M394.5 364.9L395.6 369.3L398.9 366.1M399.2 342.8L399.2 356.3M396.9 352.4L399.2 356.3L401.5 352.4M399.2 329.0L399.6 342.5M397.2 338.6L399.6 342.5L401.8 338.5M399.2 315.1L399.7 328.6M397.2 324.7L399.7 328.6L401.8 324.5M399.2 301.2L399.7 314.7M397.2 310.8L399.7 314.7L401.8 310.6M399.2 287.3L395.7 300.3M394.5 295.9L395.7 300.3L398.9 297.1M399.2 273.3L385.7 275.2M389.3 272.3L385.7 275.2L389.9 276.9M399.2 259.2L386.2 263.9M389.2 260.4L386.2 263.9L390.7 264.7M399.2 245.0L389.5 255.0M390.6 250.5L389.5 255.0L393.9 253.7M399.2 230.8L390.1 241.4M390.9 236.9L390.1 241.4L394.4 239.9M399.2 216.5L387.4 224.4M389.4 220.3L387.4 224.4L392.0 224.1M399.2 202.1L384.9 205.1M388.3 202.0L384.9 205.1L389.3 206.5M399.2 187.7L384.6 190.3M388.1 187.3L384.6 190.3L388.9 191.9M399.2 173.1L384.9 177.8M388.0 174.4L384.9 177.8L389.4 178.8M399.2 158.5L386.6 166.5M388.8 162.4L386.6 166.5L391.2 166.3M399.2 143.7L389.5 153.7M390.6 149.2L389.5 153.7L393.9 152.4M412.8 438.7L403.2 447.5M404.6 443.1L403.2 447.5L407.7 446.5M412.8 425.1L402.9 433.5M404.4 429.2L402.9 433.5L407.4 432.7M412.8 370.4L402.8 378.7M404.4 374.4L402.8 378.7L407.4 377.9M412.8 356.6L405.0 367.0M405.6 362.5L405.0 367.0L409.3 365.2M412.8 329.0L411.7 342.4M409.8 338.2L411.7 342.4L414.4 338.6M412.8 315.1L413.3 328.6M410.8 324.7L413.3 328.6L415.4 324.6M412.8 301.2L413.3 314.8M410.8 310.9L413.3 314.8L415.4 310.7M412.8 287.3L408.2 300.0M407.4 295.4L408.2 300.0L411.7 297.0M412.8 273.3L399.2 274.4M402.9 271.8L399.2 274.4L403.3 276.4M412.8 259.2L399.3 260.4M403.1 257.7L399.3 260.4L403.5 262.3M412.8 245.0L405.7 256.5M405.8 251.9L405.7 256.5L409.7 254.3M412.8 230.8L404.9 242.0M405.3 237.4L404.9 242.0L409.1 240.1M412.8 216.5L401.2 224.7M403.1 220.5L401.2 224.7L405.8 224.3M412.8 202.1L398.3 203.4M402.0 200.8L398.3 203.4L402.4 205.4M412.8 187.7L398.1 189.0M401.9 186.3L398.1 189.0L402.3 190.9M412.8 173.1L398.0 175.2M401.6 172.4L398.0 175.2L402.2 176.9M412.8 158.5L399.8 165.9M402.1 161.9L399.8 165.9L404.4 165.9M412.8 143.7L403.1 154.5M404.1 150.0L403.1 154.5L407.5 153.1M412.8 128.9L404.8 140.2M405.2 135.6L404.8 140.2L409.0 138.3M426.4 438.7L415.8 446.4M417.7 442.2L415.8 446.4L420.4 445.9M426.4 425.1L415.3 432.1M417.4 428.1L415.3 432.1L419.9 431.9M426.4 411.4L415.1 418.2M417.3 414.2L415.1 418.2L419.7 418.2M426.4 397.8L414.9 404.4M417.2 400.4L414.9 404.4L419.5 404.4M426.4 384.1L415.2 390.7M417.4 386.7L415.2 390.7L419.8 390.7M426.4 370.4L415.5 377.4M417.6 373.3L415.5 377.4L420.1 377.2M426.4 356.6L415.8 364.0M417.7 359.9L415.8 364.0L420.4 363.6M426.4 342.8L417.5 352.3M418.6 347.8L417.5 352.3L421.9 351.0M426.4 315.1L421.1 327.3M420.6 322.7L421.1 327.3L424.8 324.6M426.4 301.2L425.0 314.5M423.1 310.3L425.0 314.5L427.7 310.8M426.4 287.3L426.5 300.9M424.2 297.0L426.5 300.9L428.8 296.9M426.4 273.3L412.9 275.1M416.5 272.3L412.9 275.1L417.2 276.9M426.4 259.2L412.9 260.4M416.7 257.7L412.9 260.4L417.1 262.3M426.4 245.0L421.8 257.7M421.0 253.1L421.8 257.7L425.3 254.7M426.4 230.8L418.4 241.7M418.9 237.1L418.4 241.7L422.6 239.9M426.4 216.5L414.2 223.6M416.5 219.6L414.2 223.6L418.8 223.6M426.4 202.1L412.1 204.9M415.6 201.9L412.1 204.9L416.5 206.4M426.4 187.7L411.8 189.5M415.4 186.7L411.8 189.5L416.0 191.3M426.4 173.1L411.7 175.9M415.2 172.9L411.7 175.9L416.0 177.4M426.4 158.5L413.1 165.4M415.6 161.5L413.1 165.4L417.7 165.6M426.4 143.7L419.1 156.4M419.1 151.8L419.1 156.4L423.1 154.1M426.4 128.9L418.9 140.9M419.0 136.3L418.9 140.9L422.9 138.8M440.0 452.4L429.6 460.2M431.4 456.0L429.6 460.2L434.2 459.6M440.0 438.7L428.6 445.6M430.8 441.6L428.6 445.6L433.2 445.5M440.0 425.1L427.8 430.8M430.5 427.0L427.8 430.8L432.4 431.2M440.0 411.4L427.9 417.2M430.5 413.4L427.9 417.2L432.5 417.5M440.0 397.8L427.9 403.4M430.5 399.6L427.9 403.4L432.5 403.8M440.0 384.1L428.4 390.2M430.8 386.3L428.4 390.2L433.0 390.4M440.0 370.4L428.7 376.9M431.0 372.9L428.7 376.9L433.3 376.9M440.0 356.6L428.8 363.2M431.1 359.2L428.8 363.2L433.4 363.2M440.0 342.8L429.0 349.7M431.1 345.6L429.0 349.7L433.6 349.5M440.0 329.0L428.7 335.5M431.0 331.5L428.7 335.5L433.3 335.5M440.0 315.1L429.5 322.8M431.4 318.6L429.5 322.8L434.1 322.3M440.0 287.3L432.7 298.5M433.0 293.9L432.7 298.5L436.8 296.4M440.0 273.3L428.6 280.7M430.7 276.6L428.6 280.7L433.2 280.4M440.0 259.2L428.1 265.5M430.6 261.6L428.1 265.5L432.7 265.7M440.0 230.8L430.1 239.8M431.5 235.4L430.1 239.8L434.6 238.8M440.0 216.5L427.4 222.4M430.0 218.6L427.4 222.4L432.0 222.8M440.0 202.1L425.6 204.2M429.3 201.3L425.6 204.2L429.9 205.9M440.0 187.7L425.6 190.8M429.0 187.7L425.6 190.8L430.0 192.2M440.0 173.1L425.3 175.8M428.8 172.8L425.3 175.8L429.6 177.4M440.0 158.5L425.4 161.9M428.8 158.7L425.4 161.9L429.8 163.2M440.0 143.7L428.0 151.8M430.0 147.7L428.0 151.8L432.6 151.5M440.0 128.9L428.9 137.7M430.6 133.4L428.9 137.7L433.4 137.0M440.0 113.9L427.6 120.5M430.0 116.6L427.6 120.5L432.2 120.6M440.0 98.8L426.7 101.9M430.0 98.7L426.7 101.9L431.1 103.2M453.6 438.7L442.1 445.7M444.3 441.7L442.1 445.7L446.7 445.6M453.6 425.1L441.4 431.4M443.9 427.5L441.4 431.4L446.0 431.6M453.6 411.4L441.5 417.5M444.0 413.6L441.5 417.5L446.0 417.8M453.6 397.8L441.7 403.9M444.2 400.0L441.7 403.9L446.3 404.1M453.6 384.1L442.0 390.4M444.4 386.5L442.0 390.4L446.6 390.5M453.6 370.4L442.3 376.9M444.6 372.9L442.3 376.9L446.9 376.9M453.6 356.6L442.4 363.2M444.7 359.2L442.4 363.2L447.0 363.2M453.6 342.8L442.3 349.3M444.6 345.4L442.3 349.3L446.9 349.3M453.6 329.0L442.7 336.2M444.8 332.1L442.7 336.2L447.3 335.9M453.6 315.1L443.0 322.7M444.9 318.5L443.0 322.7L447.6 322.2M453.6 301.2L443.6 309.6M445.2 305.3L443.6 309.6L448.2 308.8M453.6 202.1L439.8 206.0M443.0 202.7L439.8 206.0L444.3 207.1M453.6 187.7L439.2 190.5M442.7 187.5L439.2 190.5L443.6 192.0M453.6 173.1L439.0 175.3M442.6 172.4L439.0 175.3L443.2 177.0M453.6 113.9L439.5 115.7M443.2 112.9L439.5 115.7L443.7 117.5M453.6 98.8L439.5 98.1M443.6 96.0L439.5 98.1L443.4 100.6M453.6 83.6L439.9 81.2M444.2 79.6L439.9 81.2L443.5 84.2M467.2 438.7L455.7 446.0M457.8 441.9L455.7 446.0L460.3 445.8M467.2 425.1L455.3 432.0M457.6 428.0L455.3 432.0L459.9 432.0M467.2 411.4L455.3 418.0M457.7 414.1L455.3 418.0L459.9 418.1M467.2 397.8L455.5 404.5M457.8 400.5L455.5 404.5L460.1 404.5M467.2 384.1L455.9 391.2M458.0 387.1L455.9 391.2L460.5 391.0M467.2 356.6L456.6 364.1M458.5 359.9L456.6 364.1L461.1 363.7M467.2 342.8L457.3 351.3M458.8 347.0L457.3 351.3L461.8 350.5M467.2 329.0L457.8 338.0M459.1 333.6L457.8 338.0L462.3 336.9M467.2 301.2L457.3 309.4M458.9 305.1L457.3 309.4L461.8 308.7M467.2 287.3L456.7 294.6M458.6 290.5L456.7 294.6L461.3 294.2M467.2 259.2L456.0 267.8M457.8 263.5L456.0 267.8L460.6 267.2M467.2 245.0L455.5 252.9M457.6 248.7L455.5 252.9L460.1 252.6M467.2 202.1L453.9 207.2M456.9 203.6L453.9 207.2L458.5 207.9M467.2 187.7L453.3 191.0M456.7 187.9L453.3 191.0L457.7 192.3M467.2 173.1L453.0 175.1M456.7 172.3L453.0 175.1L457.3 176.9M467.2 158.5L453.0 159.9M456.7 157.2L453.0 159.9L457.2 161.8M467.2 143.7L453.1 144.2M457.0 141.8L453.1 144.2L457.1 146.4M467.2 128.9L453.3 129.2M457.2 126.8L453.3 129.2L457.3 131.4M467.2 98.8L453.6 95.5M458.0 94.2L453.6 95.5L456.9 98.6M467.2 83.6L453.8 79.0M458.3 78.1L453.8 79.0L456.8 82.4M467.2 68.2L453.8 63.6M458.3 62.7L453.8 63.6L456.8 67.1M467.2 52.7L454.1 48.1M458.6 47.3L454.1 48.1L457.1 51.6M480.8 438.7L469.4 446.2M471.5 442.1L469.4 446.2L474.0 446.0M480.8 425.1L469.1 432.3M471.3 428.3L469.1 432.3L473.7 432.2M480.8 411.4L469.2 418.6M471.4 414.5L469.2 418.6L473.8 418.5M480.8 397.8L469.5 405.2M471.6 401.1L469.5 405.2L474.1 404.9M480.8 384.1L470.1 392.2M471.9 388.0L470.1 392.2L474.7 391.6M480.8 370.4L470.9 379.1M472.4 374.7L470.9 379.1L475.5 378.1M480.8 342.8L473.4 353.4M473.8 348.8L473.4 353.4L477.6 351.5M480.8 301.2L471.0 309.5M472.5 305.2L471.0 309.5L475.5 308.7M480.8 259.2L469.2 267.6M471.1 263.4L469.2 267.6L473.8 267.1M480.8 245.0L469.3 253.6M471.1 249.4L469.3 253.6L473.9 253.1M480.8 230.8L468.9 238.8M470.9 234.7L468.9 238.8L473.5 238.5M480.8 216.5L468.4 223.7M470.7 219.7L468.4 223.7L473.0 223.7M480.8 202.1L467.9 208.1M470.5 204.3L467.9 208.1L472.4 208.5M480.8 187.7L467.2 192.0M470.3 188.6L467.2 192.0L471.7 193.0M480.8 173.1L466.8 175.8M470.3 172.8L466.8 175.8L471.1 177.3M480.8 158.5L466.5 160.1M470.2 157.3L466.5 160.1L470.8 161.9M480.8 143.7L466.3 144.1M470.2 141.7L466.3 144.1L470.3 146.3M480.8 128.9L466.3 128.4M470.4 126.2L466.3 128.4L470.2 130.8M480.8 113.9L466.7 111.5M471.0 109.9L466.7 111.5L470.2 114.4M480.8 98.8L467.2 94.9M471.7 93.8L467.2 94.9L470.4 98.2M480.8 83.6L467.5 78.8M472.1 78.0L467.5 78.8L470.5 82.3M480.8 68.2L467.4 63.1M471.9 62.3L467.4 63.1L470.3 66.6M480.8 52.7L467.7 47.6M472.3 46.9L467.7 47.6L470.6 51.2M480.8 37.0L467.9 32.1M472.5 31.4L467.9 32.1L470.8 35.7M494.4 438.7L483.2 446.6M485.2 442.4L483.2 446.6L487.8 446.2M494.4 425.1L483.2 433.1M485.1 428.9L483.2 433.1L487.8 432.7M494.4 411.4L483.3 419.2M485.2 415.1L483.3 419.2L487.8 418.8M494.4 397.8L483.7 406.1M485.5 401.8L483.7 406.1L488.3 405.4M494.4 384.1L484.3 392.8M485.8 388.4L484.3 392.8L488.8 391.9M494.4 342.8L490.0 354.9M489.2 350.4L490.0 354.9L493.5 352.0M494.4 315.1L486.2 324.9M487.0 320.4L486.2 324.9L490.5 323.4M494.4 287.3L484.1 296.1M485.6 291.8L484.1 296.1L488.6 295.3M494.4 273.3L483.3 282.0M485.0 277.8L483.3 282.0L487.9 281.4M494.4 259.2L483.1 268.3M484.8 264.0L483.1 268.3L487.6 267.6M494.4 245.0L483.0 253.9M484.7 249.7L483.0 253.9L487.6 253.3M494.4 230.8L482.7 239.3M484.5 235.1L482.7 239.3L487.2 238.8M494.4 216.5L482.2 224.3M484.4 220.2L482.2 224.3L486.8 224.1M494.4 202.1L481.9 209.4M484.2 205.4L481.9 209.4L486.5 209.4M494.4 187.7L481.0 193.1M483.9 189.5L481.0 193.1L485.6 193.7M494.4 173.1L480.6 176.9M483.8 173.7L480.6 176.9L485.0 178.1M494.4 158.5L480.3 160.9M483.8 158.0L480.3 160.9L484.6 162.5M494.4 143.7L479.8 144.8M483.6 142.2L479.8 144.8L484.0 146.8M494.4 128.9L479.8 128.1M484.0 126.0L479.8 128.1L483.7 130.6M494.4 113.9L480.2 111.4M484.5 109.8L480.2 111.4L483.7 114.3M494.4 98.8L480.9 95.0M485.4 93.8L480.9 95.0L484.1 98.3M494.4 83.6L481.1 78.9M485.6 78.0L481.1 78.9L484.1 82.4M494.4 68.2L480.9 63.4M485.4 62.6L480.9 63.4L483.9 66.9M494.4 52.7L481.2 47.8M485.7 47.0L481.2 47.8L484.2 51.4M494.4 37.0L481.4 32.2M486.0 31.4L481.4 32.2L484.4 35.7M508.0 452.4L499.2 462.8M500.0 458.3L499.2 462.8L503.5 461.2M508.0 438.7L498.5 448.7M499.6 444.2L498.5 448.7L502.9 447.4M508.0 425.1L498.1 434.9M499.3 430.5L498.1 434.9L502.6 433.8M508.0 411.4L498.2 421.1M499.4 416.6L498.2 421.1L502.6 419.9M508.0 397.8L498.3 407.3M499.5 402.9L498.3 407.3L502.7 406.2M508.0 329.0L500.4 339.6M500.8 335.1L500.4 339.6L504.6 337.8M508.0 287.3L497.1 297.1M498.5 292.7L497.1 297.1L501.6 296.1M508.0 273.3L496.9 282.6M498.4 278.3L496.9 282.6L501.4 281.8M508.0 259.2L496.8 268.5M498.4 264.2L496.8 268.5L501.3 267.7M508.0 245.0L496.7 254.2M498.3 249.9L496.7 254.2L501.2 253.5M508.0 230.8L496.5 239.7M498.2 235.5L496.5 239.7L501.0 239.1M508.0 216.5L496.1 224.9M498.0 220.7L496.1 224.9L500.7 224.5M508.0 202.1L495.5 209.6M497.8 205.6L495.5 209.6L500.1 209.5M508.0 187.7L494.8 193.7M497.5 190.0L494.8 193.7L499.4 194.2M508.0 173.1L494.3 177.6M497.4 174.2L494.3 177.6L498.8 178.6M508.0 158.5L493.9 161.5M497.3 158.4L493.9 161.5L498.2 162.9M508.0 143.7L493.5 145.2M497.2 142.5L493.5 145.2L497.7 147.1M508.0 128.9L493.4 128.4M497.5 126.2L493.4 128.4L497.3 130.8M508.0 113.9L493.8 111.8M498.0 110.1L493.8 111.8L497.4 114.6M508.0 98.8L494.3 95.4M498.8 94.2L494.3 95.4L497.7 98.6M508.0 83.6L494.6 79.3M499.1 78.3L494.6 79.3L497.7 82.7M508.0 68.2L494.6 63.5M499.1 62.6L494.6 63.5L497.6 67.0M508.0 52.7L494.9 47.9M499.4 47.1L494.9 47.9L497.9 51.4M508.0 37.0L495.0 32.2M499.6 31.4L495.0 32.2L498.0 35.8M521.6 452.4L514.8 464.2M514.8 459.6L514.8 464.2L518.8 461.9M521.6 438.7L514.2 450.4M514.4 445.9L514.2 450.4L518.3 448.3M521.6 425.1L513.8 436.6M514.1 432.1L513.8 436.6L517.9 434.6M521.6 411.4L513.6 422.8M514.0 418.2L513.6 422.8L517.7 420.9M521.6 397.8L513.2 408.8M513.7 404.3L513.2 408.8L517.4 407.1M521.6 384.1L513.1 395.1M513.7 390.5L513.1 395.1L517.4 393.3M521.6 329.0L512.7 339.6M513.5 335.1L512.7 339.6L517.0 338.1M521.6 315.1L512.4 325.5M513.3 321.0L512.4 325.5L516.7 324.1M521.6 301.2L511.5 311.6M512.6 307.1L511.5 311.6L515.9 310.3M521.6 287.3L510.9 297.3M512.2 292.9L510.9 297.3L515.4 296.3M521.6 273.3L510.6 283.0M512.1 278.6L510.6 283.0L515.1 282.1M521.6 259.2L510.4 268.7M512.0 264.4L510.4 268.7L515.0 267.9M521.6 245.0L510.3 254.4M511.9 250.1L510.3 254.4L514.8 253.6M521.6 230.8L510.2 240.1M511.8 235.8L510.2 240.1L514.7 239.4M521.6 216.5L509.8 225.3M511.7 221.1L509.8 225.3L514.4 224.8M521.6 202.1L509.1 209.9M511.3 205.8L509.1 209.9L513.7 209.7M521.6 187.7L508.5 194.1M511.1 190.3L508.5 194.1L513.1 194.4M521.6 173.1L508.0 178.1M511.0 174.6L508.0 178.1L512.5 178.9M521.6 158.5L507.6 162.0M510.9 158.8L507.6 162.0L512.0 163.3M521.6 143.7L507.1 145.8M510.7 142.9L507.1 145.8L511.4 147.5M521.6 128.9L507.0 128.4M511.1 126.2L507.0 128.4L510.9 130.8M521.6 113.9L507.3 111.7M511.6 110.0L507.3 111.7L510.9 114.6M521.6 98.8L508.1 95.4M512.5 94.1L508.1 95.4L511.4 98.6M521.6 83.6L508.3 79.2M512.8 78.3L508.3 79.2L511.3 82.6M521.6 68.2L508.2 63.5M512.7 62.7L508.2 63.5L511.2 67.0M521.6 52.7L508.5 48.0M513.0 47.1L508.5 48.0L511.4 51.5M521.6 37.0L508.6 32.3M513.1 31.5L508.6 32.3L511.6 35.8M535.2 452.4L530.6 465.0M529.8 460.5L530.6 465.0L534.1 462.1M535.2 438.7L529.7 451.3M529.2 446.7L529.7 451.3L533.4 448.5M535.2 425.1L529.2 437.6M528.8 433.1L529.2 437.6L533.0 435.0M535.2 411.4L529.3 424.2M528.9 419.6L529.3 424.2L533.0 421.5M535.2 397.8L528.2 410.1M528.1 405.5L528.2 410.1L532.1 407.7M535.2 384.1L527.5 396.0M527.8 391.4L527.5 396.0L531.6 393.9M535.2 370.4L527.4 382.2M527.7 377.6L527.4 382.2L531.5 380.2M535.2 356.6L527.1 368.4M527.5 363.8L527.1 368.4L531.3 366.4M535.2 342.8L526.6 354.4M527.1 349.8L526.6 354.4L530.8 352.6M535.2 329.0L526.0 340.2M526.8 335.7L526.0 340.2L530.3 338.6M535.2 315.1L525.5 326.2M526.4 321.7L525.5 326.2L529.9 324.7M535.2 301.2L525.0 311.8M526.1 307.4L525.0 311.8L529.4 310.6M535.2 287.3L524.6 297.5M525.8 293.1L524.6 297.5L529.0 296.4M535.2 273.3L524.2 283.1M525.7 278.7L524.2 283.1L528.7 282.2M535.2 259.2L524.1 268.9M525.5 264.5L524.1 268.9L528.6 268.0M535.2 245.0L523.9 254.6M525.4 250.3L523.9 254.6L528.4 253.8M535.2 230.8L523.8 240.3M525.4 236.0L523.8 240.3L528.3 239.5M535.2 216.5L523.7 225.9M525.3 221.6L523.7 225.9L528.2 225.1M535.2 202.1L522.6 210.0M524.8 205.9L522.6 210.0L527.2 209.8M535.2 187.7L522.1 194.4M524.6 190.6L522.1 194.4L526.7 194.6M535.2 173.1L521.7 178.6M524.5 174.9L521.7 178.6L526.2 179.2M535.2 158.5L521.2 162.4M524.4 159.1L521.2 162.4L525.7 163.5M535.2 143.7L520.7 145.9M524.3 143.0L520.7 145.9L525.0 147.6M535.2 128.9L520.6 128.8M524.6 126.5L520.6 128.8L524.6 131.1M535.2 113.9L521.0 111.9M525.3 110.2L521.0 111.9L524.6 114.8M535.2 98.8L521.7 95.6M526.1 94.3L521.7 95.6L525.1 98.7M535.2 83.6L521.8 79.5M526.3 78.4L521.8 79.5L524.9 82.8M535.2 68.2L521.8 63.7M526.4 62.8L521.8 63.7L524.9 67.1M535.2 52.7L522.1 48.0M526.6 47.2L522.1 48.0L525.0 51.5M535.2 37.0L522.2 32.3M526.7 31.5L522.2 32.3L525.1 35.9M548.8 425.1L543.6 438.0M543.0 433.5L543.6 438.0L547.3 435.2M548.8 411.4L543.3 424.4M542.7 419.8L543.3 424.4L547.0 421.6M548.8 397.8L542.6 410.5M542.3 405.9L542.6 410.5L546.4 408.0M548.8 384.1L541.9 396.6M541.8 392.0L541.9 396.6L545.9 394.2M548.8 370.4L541.5 382.7M541.6 378.1L541.5 382.7L545.5 380.5M548.8 356.6L541.2 368.8M541.3 364.2L541.2 368.8L545.2 366.7M548.8 342.8L540.4 354.7M540.9 350.1L540.4 354.7L544.6 352.7M548.8 329.0L539.8 340.5M540.5 335.9L539.8 340.5L544.1 338.8M548.8 315.1L539.3 326.2M540.1 321.7L539.3 326.2L543.6 324.7M548.8 301.2L538.8 311.9M539.8 307.4L538.8 311.9L543.2 310.6M548.8 287.3L538.3 297.6M539.6 293.1L538.3 297.6L542.8 296.4M548.8 273.3L538.0 283.3M539.4 278.9L538.0 283.3L542.5 282.2M548.8 259.2L537.7 269.0M539.2 264.6L537.7 269.0L542.2 268.1M548.8 245.0L537.4 254.7M539.0 250.3L537.4 254.7L542.0 253.8M548.8 230.8L537.3 240.2M538.9 235.9L537.3 240.2L541.8 239.5M548.8 216.5L536.9 225.6M538.7 221.3L536.9 225.6L541.5 225.0M548.8 202.1L536.4 210.3M538.4 206.2L536.4 210.3L540.9 210.1M548.8 187.7L535.8 194.8M538.2 190.9L535.8 194.8L540.4 194.9M548.8 173.1L535.4 179.0M538.1 175.3L535.4 179.0L540.0 179.5M548.8 158.5L534.9 162.8M538.0 159.4L534.9 162.8L539.4 163.8M548.8 143.7L534.3 146.2M537.8 143.3L534.3 146.2L538.6 147.8M548.8 128.9L534.2 129.1M538.1 126.7L534.2 129.1L538.2 131.3M548.8 113.9L534.4 112.1M538.6 110.3L534.4 112.1L538.0 114.8M548.8 98.8L535.5 95.7M539.9 94.4L535.5 95.7L538.9 98.9M548.8 83.6L535.5 79.6M539.9 78.6L535.5 79.6L538.6 83.0M548.8 68.2L535.4 63.8M539.9 62.8L535.4 63.8L538.4 67.2M548.8 52.7L535.5 48.1M540.1 47.2L535.5 48.1L538.5 51.6M548.8 37.0L535.7 32.4M540.2 31.6L535.7 32.4L538.7 35.9M562.4 452.4L557.9 465.3M557.0 460.8L557.9 465.3L561.4 462.3M562.4 438.7L557.8 451.7M556.9 447.2L557.8 451.7L561.3 448.7M562.4 425.1L557.5 438.2M556.7 433.6L557.5 438.2L561.0 435.3M562.4 411.4L557.1 424.5M556.5 419.9L557.1 424.5L560.7 421.7M562.4 397.8L556.6 410.7M556.1 406.1L556.6 410.7L560.3 408.0M562.4 384.1L556.1 396.9M555.8 392.3L556.1 396.9L559.9 394.3M562.4 370.4L555.5 382.9M555.4 378.3L555.5 382.9L559.4 380.5M562.4 356.6L555.0 368.9M555.0 364.3L555.0 368.9L559.0 366.7M562.4 342.8L554.3 354.8M554.6 350.2L554.3 354.8L558.4 352.8M562.4 329.0L553.6 340.6M554.2 336.0L553.6 340.6L557.9 338.8M562.4 315.1L553.1 326.4M553.9 321.8L553.1 326.4L557.4 324.8M562.4 301.2L552.5 312.0M553.5 307.5L552.5 312.0L556.9 310.6M562.4 287.3L552.1 297.7M553.2 293.2L552.1 297.7L556.5 296.5M562.4 273.3L551.7 283.4M553.0 279.0L551.7 283.4L556.2 282.3M562.4 259.2L551.3 269.0M552.8 264.7L551.3 269.0L555.8 268.1M562.4 245.0L551.0 254.6M552.5 250.3L551.0 254.6L555.5 253.8M562.4 230.8L550.6 240.0M552.4 235.7L550.6 240.0L555.2 239.4M562.4 216.5L550.4 225.4M552.2 221.2L550.4 225.4L555.0 224.9M562.4 202.1L550.0 210.5M552.1 206.4L550.0 210.5L554.6 210.2M562.4 187.7L549.5 195.2M551.8 191.2L549.5 195.2L554.1 195.2M562.4 173.1L549.2 179.6M551.7 175.8L549.2 179.6L553.7 179.9M562.4 158.5L548.6 163.5M551.6 159.9L548.6 163.5L553.1 164.3M562.4 143.7L548.0 146.7M551.4 143.7L548.0 146.7L552.3 148.2M562.4 128.9L547.7 129.2M551.7 126.8L547.7 129.2L551.7 131.4M562.4 113.9L548.1 112.1M552.3 110.3L548.1 112.1L551.7 114.9M562.4 98.8L548.7 95.7M553.1 94.3L548.7 95.7L552.0 98.8M562.4 83.6L549.0 79.6M553.4 78.5L549.0 79.6L552.1 82.9M562.4 68.2L548.9 63.9M553.4 62.9L548.9 63.9L552.0 67.3M562.4 52.7L549.0 48.2M553.5 47.3L549.0 48.2L552.0 51.6M562.4 37.0L549.2 32.5M553.7 31.6L549.2 32.5L552.2 36.0M576.0 452.4L571.4 465.5M570.5 461.0L571.4 465.5L574.9 462.5M576.0 438.7L571.2 451.9M570.4 447.3L571.2 451.9L574.7 448.9M576.0 425.1L571.1 438.2M570.3 433.7L571.1 438.2L574.7 435.3M576.0 411.4L570.8 424.5M570.1 420.0L570.8 424.5L574.4 421.7M576.0 397.8L570.4 410.8M569.9 406.2L570.4 410.8L574.1 408.1M576.0 384.1L570.0 397.0M569.6 392.4L570.0 397.0L573.7 394.4M576.0 370.4L569.3 383.1M569.1 378.5L569.3 383.1L573.2 380.6M576.0 356.6L568.7 369.0M568.8 364.4L568.7 369.0L572.7 366.7M576.0 342.8L568.1 354.9M568.3 350.3L568.1 354.9L572.2 352.8M576.0 329.0L567.4 340.6M567.9 336.1L567.4 340.6L571.6 338.8M576.0 315.1L566.8 326.4M567.6 321.9L566.8 326.4L571.1 324.8M576.0 301.2L566.2 312.1M567.2 307.6L566.2 312.1L570.6 310.7M576.0 287.3L565.8 297.8M566.9 293.3L565.8 297.8L570.2 296.5M576.0 273.3L565.4 283.4M566.7 279.0L565.4 283.4L569.9 282.3M576.0 259.2L564.9 269.0M566.4 264.6L564.9 269.0L569.4 268.1M576.0 245.0L564.6 254.6M566.2 250.3L564.6 254.6L569.1 253.8M576.0 230.8L564.2 240.0M566.0 235.7L564.2 240.0L568.8 239.3M576.0 216.5L563.9 225.3M565.8 221.1L563.9 225.3L568.5 224.8M576.0 202.1L563.6 210.4M565.6 206.3L563.6 210.4L568.2 210.1M576.0 187.7L563.2 195.3M565.4 191.3L563.2 195.3L567.8 195.3M576.0 173.1L563.0 180.1M565.4 176.2L563.0 180.1L567.6 180.2M576.0 158.5L562.4 163.8M565.2 160.2L562.4 163.8L566.9 164.5M576.0 143.7L561.6 147.6M564.9 144.3L561.6 147.6L566.1 148.8M576.0 128.9L561.3 128.9M565.3 126.6L561.3 128.9L565.3 131.2M576.0 113.9L561.6 112.2M565.8 110.4L561.6 112.2L565.2 114.9M576.0 98.8L562.1 95.8M566.5 94.4L562.1 95.8L565.5 98.9M576.0 83.6L562.5 79.7M566.9 78.6L562.5 79.7L565.7 83.0M576.0 68.2L562.5 64.1M566.9 63.0L562.5 64.1L565.6 67.4M576.0 52.7L562.4 48.4M566.9 47.4L562.4 48.4L565.5 51.8M576.0 37.0L562.7 32.7M567.2 31.7L562.7 32.7L565.8 36.1" fill="none" stroke="#000080" stroke-width="0.98" shape-rendering="crispEdges"/>
<path d="M168.5 38V465M236.5 38V465M304.5 38V465M372.5 38V465M440.5 38V465M507.5 38V465M155 397.5H575M155 329.5H575M155 259.5H575M155 188.5H575M155 115.5H575" stroke="#000" stroke-width="1" fill="none" shape-rendering="crispEdges"/>
<path d="M467 38 464 46 461 52 460 60 456 66 454 72 452 73 449 69 450 76 445 82 441 88 434 89 434 96 437 100 433 106 429 110 425 114 421 118 417 121 411 123 413 126 409 129 405 132 401 135 397 139 393 142 389 145 381 146 373 147 367 148 365 152 359 154 355 152 354 146 351 145 350 152 346 156 341 160 335 162 327 163 321 166 313 169 307 172 330.1 162.5 326.1 165.2 320.8 165.8 315.5 166.5 312.2 168.5 309.5 169.8" fill="none" stroke="#000" stroke-width="8.5" stroke-dasharray="2 2.5"/>
<path d="M467 38 464 46 461 52 460 60 456 66 454 72 452 73 449 69 450 76 445 82 441 88 434 89 434 96 437 100 433 106 429 110 425 114 421 118 417 121 411 123 413 126 409 129 405 132 401 135 397 139 393 142 389 145 381 146 373 147 367 148 365 152 359 154 355 152 354 146 351 145 350 152 346 156 341 160 335 162 327 163 321 166 313 169 307 172 330.1 162.5 326.1 165.2 320.8 165.8 315.5 166.5 312.2 168.5 309.5 169.8" fill="none" stroke="#000" stroke-width="5.0"/>
<path d="M309.5 169.8 307.5 172.5 307.5 176.4 309.5 179.7 311.5 181.9 310.9 184 308.9 184.5 306.2 183.4 303.6 181.1 302.3 177.1 302.9 171.8 302.9 166.5 300.9 164.5 298.9 162.5 297 163.8 293.6 165.2 290.3 163.8 287 162.5 283.7 161.2 279.7 165.2 275.1 165.8 271.1 167.8 267.8 171.8 263.2 173.1 258.5 173.8 259.2 178.4 256.6 181.1 254.6 186.4 250.6 188.3 248.6 193 247.3 198.3" fill="none" stroke="#000" stroke-width="3.5" stroke-dasharray="2 3"/>
<path d="M238 329 238.1 329.5 234.8 326.9 229.5 324.3 224.2 323.6 221.5 321.6 216.9 319 218.9 315 216.2 313 213.6 316.3 211.6 313 208.9 307.7 206.3 303.1 203 300.4 199.7 297.1 196.4 294.5 192.4 291.8 187.1 293.1 181.8 292.5 179.8 288.5 181.8 285.2" fill="none" stroke="#000" stroke-width="3.0" stroke-dasharray="2 3"/>
<path d="M227 446 220 447 216 444 208 439 200 435 193 430 187 424 183 416 180 409 177 402 174 394 174.5 394 173.8 388.9 173.2 383.6 171.9 378.3 169.9 375.6 167.2 373 164.6 367.7 162.6 363.7 159.3 358.4 155.3 355.8" fill="none" stroke="#000" stroke-width="3.5" stroke-dasharray="2 3"/>
<path d="M160 420 166 426 172 433 180 437 187 440 190 438 193 442 198 446 203 450 210 454 216 460 222 465" fill="none" stroke="#000" stroke-width="3.5" stroke-dasharray="2 3"/>
<path d="M398 369 401 372 405 377 410 381 413 386 419 389 425 391 430 393 426 396 419 398 416 401 421 404 415 406 410 407 412 413 407 416 403 417 407 422 410 428 414 433 410 436 412 441 417 445 423 449 426 453 421 454 413 452 410 457 406 465" fill="none" stroke="#000" stroke-width="4.0" stroke-dasharray="2 3"/>
<path d="M447.7 212.8 449.3 210.2 451.4 208.6 454.6 209.1 458.4 210.2 462.1 211.8 465.3 212.8 468 211.8 469.1 209.1 470.7 210.2 471.2 213.4 469.6 216.1 470.1 219.3 471.8 222.5 472.8 226.2 473.9 229.4 473.4 233.2 471.8 236.4 470.1 239.1 468.5 241.8 466.4 243.4 464.3 245.5 462.1 248.2 461 250.9 459.4 253.5 458.9 256.7 461 256 461.9 261.4 462.8 265.9 464.2 269.5 466.4 271.5 469.6 271.1 472.3 270.9 475.4 270 478.1 270.4 479.9 272.7 482.2 275.4 484.4 277.6 486.7 276.3 489.8 275.8 492.1 276.3 491.6 277.2 488 277.6 487.1 279 488.9 281.7 490.3 283.9 491.6 286.6 491.2 288.4 488.9 287.5 486.7 285.7 485.3 283 483.5 279.9 481.3 277.6 478.6 275.4 475.9 274 473.6 272.9 471.4 273.6 469.1 274 471.4 276.3 473.6 279 475.4 282.1 475.9 284.8 474.5 283 473.2 280.3 470.9 278.1 468.7 276.7 466.4 275.4 463.7 274 460.6 274.9 457.4 276.7 454.7 277.2 452 276.3 453 275.7 449.8 275.2 448.7 271.9 448.2 268.2 449.8 267.7 453 266.1 453 262.8 447.7 263.4 445 263.4 442.8 261.8 441.8 258.6 440.7 254.3 441.2 256.7 440.7 252.5 439.6 248.2 438 246 437.5 243.9 440.2 242.8 442.8 243.4 443.9 241.2 444.5 236.9 445.5 233.2 446.1 228.9 446.6 224.6 446.1 220.9 447.1 217.1 447.7 212.8" fill="none" stroke="#000" stroke-width="3.2" stroke-dasharray="2 2.5"/>
<path d="M447.1 282.1 449.8 281 454.6 281.6 457.8 283.7 460 286.9 460.5 291.2 458.9 295 456.8 297.6 455.2 297.1 453 292.8 451.4 288.5 449.3 284.8 447.1 282.1" fill="none" stroke="#000" stroke-width="3.2" stroke-dasharray="2 2.5"/>
<path d="M499.4 295.7 503.2 294.6 507.5 294.1 510.7 295.2 512.8 298.9 513.9 303.2 513.4 307.5 515 311.2 512.8 312.3 510.1 311.8 508.5 308 507.5 304.3 505.3 302.1 502.6 300.5 500.5 298.4 499.4 295.7" fill="none" stroke="#000" stroke-width="3.2" stroke-dasharray="2 2.5"/>
<path d="M502.1 312.3 505.3 311.8 506.9 315 507.5 319.3 509.6 322.5 510.7 325.7 508.5 325.7 506.4 322.5 504.8 319.3 503.2 316 502.1 312.3" fill="none" stroke="#000" stroke-width="3.2" stroke-dasharray="2 2.5"/>
<path d="M484.9 296.1 487.6 295.6 490.7 297.9 493.9 301 495.2 303.3 493.4 303.3 490.7 301 487.6 299.2 485.3 298.3 484.9 296.1" fill="none" stroke="#000" stroke-width="3.2" stroke-dasharray="2 2.5"/>
<path d="M467.8 303.7 471.1 304.8 475.3 307.5 479.6 309.1 482.3 310.2 480.7 313.4 478 316 474.8 318.2 471.1 320.9 468.4 321.9 466.8 319.8 467.3 316 467.6 310.7 467.8 303.7" fill="none" stroke="#000" stroke-width="3.2" stroke-dasharray="2 2.5"/>
<path d="M481.8 316.6 485.5 316 486.6 319.3 485.5 323.5 483.9 327.8 483.4 332.1 483.9 336.4 482.8 340.1 480.2 341.2 478 338 474.8 334.8 473.2 332.1 474.8 330.5 478 330 479.6 326.8 480.2 322.5 481.2 319.3 481.8 316.6" fill="none" stroke="#000" stroke-width="3.2" stroke-dasharray="2 2.5"/>
<path d="M492.5 316.6 494.1 317.1 493.5 321.4 491.4 325.7 489.3 330 487.1 333.7 485.5 335.3 485 333.2 487.1 328.9 489.3 324.6 490.9 320.3 492.5 316.6" fill="none" stroke="#000" stroke-width="3.2" stroke-dasharray="2 2.5"/>
<path d="M492.5 329.4 495.7 327.3 499.4 327.3 500.5 330 498.4 332.6 494.6 333.2 492.5 332.1 492.5 329.4" fill="none" stroke="#000" stroke-width="3.2" stroke-dasharray="2 2.5"/>
<path d="M517 331 520 335 523 340 524 346 526 352 528 358 529 364 527 369 525 372 524 378 522 374 520 369 517 368 515 372 516 378 517 383 515 387 511 387 510 383 506 384 501 382 497 379 495 374 496 369 497 363 493.6 360 490 357.6 488 360 485 359 483 363 480 359 477 360 474 363 472 368 469.6 371.6 466.6 370 468 364 470 359 474 356 479 354.4 480.6 351 485 348 489 347.6 491.6 350 492.4 354 497 353 502 348 506 344 510 343 513 340 515 335 517 331" fill="none" stroke="#000" stroke-width="3.2" stroke-dasharray="2 2.5"/>
<path d="M402.7 349.4 405.3 346.2 409.6 342.5 413.9 338.7 418.2 335 421.9 330.7 425.1 326.4 427.8 323.7 431 320.5 432.6 318.4 434.3 318.9 434.8 321.6 432.6 324.3 430 326.4 426.8 329.1 423.5 332.8 421.4 336.6 418.2 339.3 413.9 342.5 410.2 345.1 406.9 348.4 404.8 350 402.7 349.4" fill="none" stroke="#000" stroke-width="3.2" stroke-dasharray="2 2.5"/>
<path d="M437.5 298 440.7 297.3 443.9 299.1 443.7 301.8 440.7 303.4 438.5 302.8 437.2 300.7 437.5 298" fill="none" stroke="#000" stroke-width="3.2" stroke-dasharray="2 2.5"/>
<path d="M430 310.9 433.2 309.8 436.2 311.9 436.4 315.7 434.8 318.1 432.1 318.1 429.8 315.7 430 310.9" fill="none" stroke="#000" stroke-width="3.2" stroke-dasharray="2 2.5"/>
<path d="M545.6 435.2 547.6 437.9 548.9 441.9 548.3 445.9 546.9 449.3 548.9 452 551.6 448.6 554.3 445.9 557 444.6 559 446.6 558.3 451.3 556.3 455.3 553.6 458 550.9 458 549.3 456 547.6 458 547.6 464.7 544.9 464.7 544.9 458 543.2 455.6 544.2 452.6 541.8 450.6 540.9 446.6 542.2 441.9 543.6 437.9 545.6 435.2" fill="none" stroke="#000" stroke-width="3.2" stroke-dasharray="2 2.5"/>
<path d="M551.6 433.2 555 430.1 557.6 431.2 557.4 434.5 554.3 436.8 551.9 436.3 551.6 433.2" fill="none" stroke="#000" stroke-width="3.2" stroke-dasharray="2 2.5"/>
<path d="M465.1 281.2 467.8 281.2 467.3 283.5 465.5 283.5 465.1 281.2" fill="none" stroke="#000" stroke-width="3.2" stroke-dasharray="2 2.5"/>
<path d="M438.6 298.7 440.7 298.2 443.9 300.3 440.7 301.4 438.6 298.7" fill="none" stroke="#000" stroke-width="3.2" stroke-dasharray="2 2.5"/>
<path d="M481 285.7 482.5 286.2 483.1 288 481.9 287.5 481 285.7" fill="none" stroke="#000" stroke-width="3.2" stroke-dasharray="2 2.5"/>
<path d="M496.1 273.6 498.4 273.1 499.3 275.4 498.8 278.1 497 279.4 496.1 277.2 496.1 273.6" fill="none" stroke="#000" stroke-width="3.2" stroke-dasharray="2 2.5"/>
<path d="M493 289.8 495.7 288.9 496.1 291.6 494.3 292.5 493 289.8" fill="none" stroke="#000" stroke-width="3.2" stroke-dasharray="2 2.5"/>
<path d="M474.5 294.7 476.3 294.9 476.5 296.2 474.7 296.2 474.5 294.7" fill="none" stroke="#000" stroke-width="3.2" stroke-dasharray="2 2.5"/>
<path d="M439.7 457.7 442.4 455 447.7 453 451.7 447.7 455.6 447.7 459.6 449.7 466.2 451.1 472.8 452.4 479.5 452.4 486.1 453.7 492.7 452.4 500 450.5 505 446 508 442 511 445 507 451 502 455 497 458.5 492.7 459.7 486.1 461 479.5 458.3 472.8 457.7 466.2 457.7 459.6 458.3 453 459 447.7 459 443.7 461 441 464.3 438.4 467 436 467" fill="none" stroke="#000" stroke-width="2.6" stroke-dasharray="2 4"/>
<path d="M245.6 202 250 209 256 217 260 224 268 232 274 240 282 246 288 253 290 258" fill="none" stroke="#000" stroke-width="3.6" stroke-dasharray="2 2"/>
<path d="M290 258 292 266 294 278 297 288" fill="none" stroke="#000" stroke-width="2.8" stroke-dasharray="2 3"/>
<path d="M153 36 467 36 467 38 464 46 461 52 460 60 456 66 454 72 452 73 449 69 450 76 445 82 441 88 434 89 434 96 437 100 433 106 429 110 425 114 421 118 417 121 411 123 413 126 409 129 405 132 401 135 397 139 393 142 389 145 381 146 373 147 367 148 365 152 359 154 355 152 354 146 351 145 350 152 346 156 341 160 335 162 327 163 321 166 313 169 307 172 330.1 162.5 326.1 165.2 320.8 165.8 315.5 166.5 312.2 168.5 309.5 169.8 307.5 172.5 307.5 176.4 309.5 179.7 311.5 181.9 310.9 184 308.9 184.5 306.2 183.4 303.6 181.1 302.3 177.1 302.9 171.8 302.9 166.5 300.9 164.5 298.9 162.5 297 163.8 293.6 165.2 290.3 163.8 287 162.5 283.7 161.2 279.7 165.2 275.1 165.8 271.1 167.8 267.8 171.8 263.2 173.1 258.5 173.8 259.2 178.4 256.6 181.1 254.6 186.4 250.6 188.3 248.6 193 247.3 198.3 245.3 203.6 245.6 202 250 209 256 217 260 224 268 232 274 240 282 246 288 253 290 258 292 266 294 278 297 288 295 294 293 304 286 312 278 318 268 323 262 324 258 327 259 331 254 336 246 341 240 346 237 348 235 345 236 334 238 329 238.1 329.5 234.8 326.9 229.5 324.3 224.2 323.6 221.5 321.6 216.9 319 218.9 315 216.2 313 213.6 316.3 211.6 313 208.9 307.7 206.3 303.1 203 300.4 199.7 297.1 196.4 294.5 192.4 291.8 187.1 293.1 181.8 292.5 179.8 288.5 181.8 285.2 181.8 281.2 175.2 280.3 169.9 281.2 167.9 283.2 168.5 288.5 168.5 299.1 167.2 301.7 165.2 307 163.2 312.3 161.3 317.6 158.6 322.9 157.3 328.2 157.3 320 157.9 325.3 157.3 330.6 158.6 337.2 160.6 339.9 164.6 339.2 167.9 337.9 168.5 342.5 169.9 347.8 172.5 353.1 174.5 359.7 175.8 366.4 180.5 369 184.4 371 188.4 372.3 191.1 375.6 195 378.9 199 381.6 203 384.9 207 387.5 209.6 390.2 211.6 394 212 395 215 403 216 414 217 424 221 432 225 440 227 446 220 447 216 444 208 439 200 435 193 430 187 424 183 416 180 409 177 402 174 394 174.5 394 173.8 388.9 173.2 383.6 171.9 378.3 169.9 375.6 167.2 373 164.6 367.7 162.6 363.7 159.3 358.4 155.3 355.8 153 355Z" fill="#c5c3c6" stroke="#000" stroke-width="1.7" stroke-linejoin="round" paint-order="stroke"/>
<path d="M285.7 200.3 288.3 197 293 193.6 298.3 191 303.6 189 308.9 187.7 313.5 188.3 316.8 190.3 318.1 193 316.2 196.3 313.5 199.6 312.2 203.6 309.5 206.9 306.2 209.5 302.3 211.5 297 212.2 292.3 210.9 288.3 208.2 286.4 204.2Z" fill="#c5c3c6" stroke="#000" stroke-width="1.5" stroke-linejoin="round" paint-order="stroke"/>
<path d="M461 110.8 459.4 112.1 456.2 113.7 453.5 117 450.9 121.8 447.7 126.6 444.4 131.4 443 136.2 442.3 141 443 143.6 445.2 149 448.4 153.2 450 155.9 450.5 159.6 452.1 159.6 452.1 153.2 455.3 147.8 458 143.6 459.6 139.3 460.2 135 461.6 134.6 462.6 130.3 464.8 126 465.3 121.8 464.8 118 465.9 114.3 463.7 112.1Z" fill="#c5c3c6" stroke="#000" stroke-width="1.6" stroke-linejoin="round" paint-order="stroke"/>
<path d="M153 416 160 420 166 426 172 433 180 437 187 440 190 438 193 442 198 446 203 450 210 454 216 460 222 465 222 467 153 467Z" fill="#c5c3c6" stroke="#000" stroke-width="2.4" stroke-linejoin="round" paint-order="stroke"/>
<path d="M295 465 292 462 290 454 292 446 296 439 301 438.4 307 443 315 445 320 442 321 436 323 429 331 425 341 423 348 419 354 412 361 405 367 401 373 398 376 393 381 390 386 384 391 378 395 373 398 369 401 372 405 377 410 381 413 386 419 389 425 391 430 393 426 396 419 398 416 401 421 404 415 406 410 407 412 413 407 416 403 417 407 422 410 428 414 433 410 436 412 441 417 445 423 449 426 453 421 454 413 452 410 457 406 465 406 467 295 467Z" fill="#c5c3c6" stroke="#000" stroke-width="2.2" stroke-linejoin="round" paint-order="stroke"/>
<path d="M402.7 349.4 405.3 346.2 409.6 342.5 413.9 338.7 418.2 335 421.9 330.7 425.1 326.4 427.8 323.7 431 320.5 432.6 318.4 434.3 318.9 434.8 321.6 432.6 324.3 430 326.4 426.8 329.1 423.5 332.8 421.4 336.6 418.2 339.3 413.9 342.5 410.2 345.1 406.9 348.4 404.8 350Z" fill="#c5c3c6" stroke="#000" stroke-width="3.6" stroke-linejoin="round" paint-order="stroke"/>
<path d="M447.7 212.8 449.3 210.2 451.4 208.6 454.6 209.1 458.4 210.2 462.1 211.8 465.3 212.8 468 211.8 469.1 209.1 470.7 210.2 471.2 213.4 469.6 216.1 470.1 219.3 471.8 222.5 472.8 226.2 473.9 229.4 473.4 233.2 471.8 236.4 470.1 239.1 468.5 241.8 466.4 243.4 464.3 245.5 462.1 248.2 461 250.9 459.4 253.5 458.9 256.7 461 256 461.9 261.4 462.8 265.9 464.2 269.5 466.4 271.5 469.6 271.1 472.3 270.9 475.4 270 478.1 270.4 479.9 272.7 482.2 275.4 484.4 277.6 486.7 276.3 489.8 275.8 492.1 276.3 491.6 277.2 488 277.6 487.1 279 488.9 281.7 490.3 283.9 491.6 286.6 491.2 288.4 488.9 287.5 486.7 285.7 485.3 283 483.5 279.9 481.3 277.6 478.6 275.4 475.9 274 473.6 272.9 471.4 273.6 469.1 274 471.4 276.3 473.6 279 475.4 282.1 475.9 284.8 474.5 283 473.2 280.3 470.9 278.1 468.7 276.7 466.4 275.4 463.7 274 460.6 274.9 457.4 276.7 454.7 277.2 452 276.3 453 275.7 449.8 275.2 448.7 271.9 448.2 268.2 449.8 267.7 453 266.1 453 262.8 447.7 263.4 445 263.4 442.8 261.8 441.8 258.6 440.7 254.3 441.2 256.7 440.7 252.5 439.6 248.2 438 246 437.5 243.9 440.2 242.8 442.8 243.4 443.9 241.2 444.5 236.9 445.5 233.2 446.1 228.9 446.6 224.6 446.1 220.9 447.1 217.1ZM517 331 520 335 523 340 524 346 526 352 528 358 529 364 527 369 525 372 524 378 522 374 520 369 517 368 515 372 516 378 517 383 515 387 511 387 510 383 506 384 501 382 497 379 495 374 496 369 497 363 493.6 360 490 357.6 488 360 485 359 483 363 480 359 477 360 474 363 472 368 469.6 371.6 466.6 370 468 364 470 359 474 356 479 354.4 480.6 351 485 348 489 347.6 491.6 350 492.4 354 497 353 502 348 506 344 510 343 513 340 515 335ZM545.6 435.2 547.6 437.9 548.9 441.9 548.3 445.9 546.9 449.3 548.9 452 551.6 448.6 554.3 445.9 557 444.6 559 446.6 558.3 451.3 556.3 455.3 553.6 458 550.9 458 549.3 456 547.6 458 547.6 464.7 544.9 464.7 544.9 458 543.2 455.6 544.2 452.6 541.8 450.6 540.9 446.6 542.2 441.9 543.6 437.9ZM551.6 433.2 555 430.1 557.6 431.2 557.4 434.5 554.3 436.8 551.9 436.3Z" fill="#c5c3c6" stroke="#000" stroke-width="3.2" stroke-linejoin="round" paint-order="stroke"/>
<path d="M447.1 282.1 449.8 281 454.6 281.6 457.8 283.7 460 286.9 460.5 291.2 458.9 295 456.8 297.6 455.2 297.1 453 292.8 451.4 288.5 449.3 284.8ZM465.1 281.2 467.8 281.2 467.3 283.5 465.5 283.5ZM438.6 298.7 440.7 298.2 443.9 300.3 440.7 301.4ZM484.9 296.1 487.6 295.6 490.7 297.9 493.9 301 495.2 303.3 493.4 303.3 490.7 301 487.6 299.2 485.3 298.3ZM499.4 295.7 503.2 294.6 507.5 294.1 510.7 295.2 512.8 298.9 513.9 303.2 513.4 307.5 515 311.2 512.8 312.3 510.1 311.8 508.5 308 507.5 304.3 505.3 302.1 502.6 300.5 500.5 298.4ZM502.1 312.3 505.3 311.8 506.9 315 507.5 319.3 509.6 322.5 510.7 325.7 508.5 325.7 506.4 322.5 504.8 319.3 503.2 316ZM467.8 303.7 471.1 304.8 475.3 307.5 479.6 309.1 482.3 310.2 480.7 313.4 478 316 474.8 318.2 471.1 320.9 468.4 321.9 466.8 319.8 467.3 316 467.6 310.7ZM481.8 316.6 485.5 316 486.6 319.3 485.5 323.5 483.9 327.8 483.4 332.1 483.9 336.4 482.8 340.1 480.2 341.2 478 338 474.8 334.8 473.2 332.1 474.8 330.5 478 330 479.6 326.8 480.2 322.5 481.2 319.3ZM492.5 316.6 494.1 317.1 493.5 321.4 491.4 325.7 489.3 330 487.1 333.7 485.5 335.3 485 333.2 487.1 328.9 489.3 324.6 490.9 320.3ZM492.5 329.4 495.7 327.3 499.4 327.3 500.5 330 498.4 332.6 494.6 333.2 492.5 332.1ZM481 285.7 482.5 286.2 483.1 288 481.9 287.5ZM496.1 273.6 498.4 273.1 499.3 275.4 498.8 278.1 497 279.4 496.1 277.2ZM493 289.8 495.7 288.9 496.1 291.6 494.3 292.5ZM474.5 294.7 476.3 294.9 476.5 296.2 474.7 296.2Z" fill="#c5c3c6" stroke="#000" stroke-width="4.0" stroke-linejoin="round" paint-order="stroke"/>
<path d="M439.7 457.7 442.4 455 447.7 453 451.7 447.7 455.6 447.7 459.6 449.7 466.2 451.1 472.8 452.4 479.5 452.4 486.1 453.7 492.7 452.4 500 450.5 505 446 508 442 511 445 507 451 502 455 497 458.5 492.7 459.7 486.1 461 479.5 458.3 472.8 457.7 466.2 457.7 459.6 458.3 453 459 447.7 459 443.7 461 441 464.3 438.4 467 436 467Z" fill="#c5c3c6" stroke="#000" stroke-width="2.6" stroke-linejoin="round" paint-order="stroke"/>
<path d="M277.5 408.5 279.5 407.5 281 410 280 413.5 278 412.5Z" fill="#c5c3c6" stroke="#000" stroke-width="2.0" stroke-linejoin="round" paint-order="stroke"/>
<path d="M430 310.9 433.2 309.8 436.2 311.9 436.4 315.7 434.8 318.1 432.1 318.1 429.8 315.7ZM437.5 298 440.7 297.3 443.9 299.1 443.7 301.8 440.7 303.4 438.5 302.8 437.2 300.7Z" fill="#000" stroke="#000" stroke-width="1.5"/>
<path d="M444.8 263.1 447.7 262.8 453 262.4 453.6 266.1 450.3 268.2 447.8 266.3 447.1 264.5 444.8 264.1Z" fill="#0010ff" stroke="#000" stroke-width="1"/>
<path d="M460 42h4v3h-4ZM465 46h3v3h-3ZM462 50h3v4h-3ZM467 52h2v2h-2ZM458 56h3v3h-3ZM455 64h3v3h-3ZM470 44h2v2h-2ZM464 58h2v2h-2ZM457 70h2v2h-2ZM425 140h3v2h-3ZM426 143h2v3h-2ZM563 64h5v3h-5ZM567 61h5v3h-5ZM560 72h3v3h-3ZM556 78h3v2h-3ZM545 92h3v4h-3ZM548 88h3v4h-3ZM550 85h3v3h-3ZM538 96h3v2h-3ZM533 95h2v2h-2ZM541 98h2v2h-2ZM509 116h4v2h-4ZM512 118h3v2h-3ZM491 122h4v3h-4ZM495 120h4v3h-4ZM499 119h2v2h-2ZM480 122h3v2h-3ZM504 119h2v3h-2ZM488 103h2v1h-2ZM495 98h2v1h-2ZM571 44h2v2h-2ZM574 49h2v2h-2ZM460 149h2v2h-2ZM461 158h3v2h-3ZM465 173h2v4h-2ZM465 179h3v3h-3ZM464 183h3v2h-3ZM457 198h3v2h-3ZM466 195h2v2h-2ZM462 204h2v2h-2ZM466 203h3v3h-3ZM259 173h9v4h-9ZM262 171h5v3h-5ZM257 176h5v3h-5ZM268 170h3v2h-3ZM216 447h5v3h-5ZM220 450h6v4h-6ZM224 447h5v4h-5ZM228 452h4v4h-4ZM222 455h5v4h-5ZM218 458h4v3h-4ZM230 446h3v3h-3ZM226 459h4v3h-4ZM212 452h3v2h-3ZM232 456h3v3h-3ZM248 421h4v3h-4ZM252 419h3v3h-3ZM255 422h2v2h-2ZM246 425h2v2h-2ZM288 424h3v2h-3ZM291 426h2v2h-2ZM270 451h3v2h-3ZM273 453h2v2h-2ZM288 454h3v2h-3ZM284 441h2v2h-2ZM262 430h2v2h-2ZM280 404h1v2h-1ZM365 318h1v2h-1ZM365 323h1v1h-1ZM336 233h2v1h-2ZM363 329h2v1h-2ZM377 336h2v1h-2ZM441 393h4v3h-4ZM445 390h3v3h-3ZM449 386h3v2h-3ZM453 383h4v3h-4ZM458 380h3v2h-3ZM462 376h4v3h-4ZM466 373h3v3h-3ZM447 393h2v2h-2ZM455 387h2v2h-2ZM514 415h3v5h-3ZM516 428h2v2h-2ZM514 433h2v3h-2ZM530 402h3v5h-3ZM532 409h2v3h-2ZM536 401h2v2h-2ZM449 309h2v2h-2ZM452 312h2v2h-2ZM450 316h2v2h-2ZM454 317h2v2h-2ZM447 313h1v1h-1ZM455 334h2v2h-2ZM451 335h1v1h-1ZM515 322h3v5h-3ZM521 330h2v2h-2ZM156 357h3v3h-3ZM158 362h3v2h-3ZM161 366h2v3h-2ZM157 369h3v3h-3ZM163 372h2v2h-2ZM158 375h2v2h-2ZM165 380h2v2h-2ZM160 384h3v2h-3ZM168 344h2v2h-2ZM179 351h2v1h-2ZM208 310h2v3h-2ZM214 321h3v2h-3ZM219 325h2v2h-2ZM226 326h3v2h-3ZM231 328h2v2h-2ZM222 330h2v1h-2ZM253 339h2v1h-2ZM231 330h2v4h-2ZM409 378h3v3h-3ZM412 383h3v2h-3ZM418 386h3v3h-3ZM423 389h3v2h-3ZM415 392h3v3h-3ZM411 400h4v3h-4ZM407 405h3v3h-3ZM404 410h3v3h-3ZM408 415h3v2h-3ZM411 421h2v3h-2ZM409 432h3v3h-3ZM414 437h2v2h-2ZM421 450h2v2h-2ZM398 369h3v2h-3ZM394 371h2v3h-2ZM403 371h2v2h-2ZM430 300h5v4h-5ZM433 297h4v3h-4ZM436 304h2v2h-2ZM398 352h2v3h-2ZM401 355h2v2h-2ZM405 351h2v2h-2ZM470 296h2v2h-2ZM475 300h2v2h-2ZM489 297h2v2h-2ZM500 300h2v2h-2ZM470 330h2v2h-2ZM493 322h3v2h-3ZM520 325h2v4h-2ZM524 331h2v2h-2ZM354 146h4v5h-4ZM358 150h3v3h-3ZM350 150h3v3h-3ZM346 153h3v2h-3ZM361 147h2v2h-2ZM455 266h3v4h-3ZM457 268h2v2h-2Z" fill="#000" shape-rendering="crispEdges"/>
<path d="M155 142 162.3 142.6 161.6 147.9 159 151.9 158.3 157.2" fill="none" stroke="#000" stroke-width="0.99" shape-rendering="crispEdges"/>
<path d="M155 158.5 158.3 157.2 162.9 157.2 166.9 158.5 168.9 161.9 170.9 165.2 174.9 166.5 179.5 164.5 183.5 162.8 184.8 165.8" fill="none" stroke="#000" stroke-width="0.99" shape-rendering="crispEdges"/>
<path d="M184.8 165.8 181.5 168.5 178.2 171.1 176.2 174.4 172.9 177.7 170.2 181.1 169.6 183" fill="none" stroke="#000" stroke-width="0.99" shape-rendering="crispEdges"/>
<path d="M169.6 183 165.6 183.7 161.6 185 158.3 187 155 188.3" fill="none" stroke="#000" stroke-width="0.99" shape-rendering="crispEdges"/>
<path d="M169.6 183 172.9 183.7 174.9 187 175.5 191 177.5 194.3 181.5 193.6 185.5 194.3 186.1 199.6 186.8 203.6 184.8 208.9 185.5 205 184.1 210.3 183.5 216.9 181.5 221.6 182.8 224.2 185.5 223.5 188.1 220.2 192.7 216.9 197.4 214.3 201.3 217.6 204.7 218.9 210 216.9 212.6 212.3 215.3 211 221.9 212.3 225.2 216.9 229.2 221.6 233.1 224.9 234.5 228.2 233.5 236.8 236.4 241.4 241.1 244.7 244.4 249.4 245.1 254 243.1 258 244.4 262 243.1 266.6 239.8 269.9 243.1 271.2 248.4 272.5 253 273.9" fill="none" stroke="#000" stroke-width="0.99" shape-rendering="crispEdges"/>
<path d="M184.8 165.8 185.5 171.1 192.7 171.1 192.5 165.2 190.7 159.9 189.8 155.2 191.7 152.6 198 152.2" fill="none" stroke="#000" stroke-width="0.99" shape-rendering="crispEdges"/>
<path d="M198 152.2 201.3 148.6 205.3 149.3 208.6 152.6 211.9 149.3 215.3 147.3 217.9 149.9 221.9 151.3 225.2 147.9 229.8 147.3 233.8 146 235.8 142.6 239.1 140.7 243.1 141.3 248.4 145.3 253 144.6 242.6 140 247.9 145.3 253.2 144.6 259.9 146.6 261.2 148.6 257.9 152.6 259.9 157.2 263.2 160.5 268.5 163.8 272.5 165.2 275.1 165.8" fill="none" stroke="#000" stroke-width="0.99" shape-rendering="crispEdges"/>
<path d="M198 152.2 200.7 155.9 204 160.5 207.3 162.5 208.6 166.5 207.3 169.8 210 173.8 213.3 176.4 217.9 177.7 221.9 175.1 225.8 174.4 229.2 177.7 231.1 181.1 233.8 185.7 236.4 187.7 234.5 192.3 229.2 193 225.2 193.6 223.9 196.3 221.9 198.3 227.2 200.9 232.5 203.6 237.8 206.2 232.5 205 237.8 207.6 241.1 212.9 244.4 216.9 248.4 222.2 253 226.2 254.7 229.3 256.9 231.9 259 236.8 261.7 238.9 264.4 241 267 243.7 269.7 245.3 268.1 247.5 267 249.6 269.2 252.3 271.9 255 273 255 270 260 270 265" fill="none" stroke="#000" stroke-width="0.99" shape-rendering="crispEdges"/>
<path d="M239.8 269.9 235.1 267.3 228.5 267.3 221.9 267.3 213.9 267.9 208.6 269.9 206 273.9 203.3 279 200 280 201 288 200 294 202.4 302" fill="none" stroke="#000" stroke-width="0.99" shape-rendering="crispEdges"/>
<path d="M253 273.9 244 266 248 273 252 273 256 266 265 269 270 265" fill="none" stroke="#000" stroke-width="0.99" shape-rendering="crispEdges"/>
<path d="M270 265 269 274 272 282 271 294 264 299 255 304 248 308 248 312 254 314 252 318 244 317 240 320 236 312 238 320 230 323 230 326" fill="none" stroke="#000" stroke-width="0.99" shape-rendering="crispEdges"/>
<path d="M248 260 249 274 250 286 249 296 244 302 238 310" fill="none" stroke="#000" stroke-width="0.99" shape-rendering="crispEdges"/>
<path d="M233 303 238 301.6 244 300.4" fill="none" stroke="#000" stroke-width="0.99" shape-rendering="crispEdges"/>
<path d="M155 274 159 274 156 280 159 292 163 304 159.6 314" fill="none" stroke="#000" stroke-width="0.99" shape-rendering="crispEdges"/>
<path d="M171.9 375 176.5 377 181.1 378.9 183.1 383.6 185.1 387.5 189.7 385.6 195 384.9 197 382.3" fill="none" stroke="#000" stroke-width="0.99" shape-rendering="crispEdges"/>
<path d="M301 445 306 450 315 453 324 450 333 450 336 445 344 444 353 448 361 446 369 442 370 434 375 430 376 425 381 422 380 412 384 407 395 406 405 406 410 407" fill="none" stroke="#000" stroke-width="0.99" shape-rendering="crispEdges"/>
<path d="M362 404 368 411 371 406 370 399" fill="none" stroke="#000" stroke-width="0.99" shape-rendering="crispEdges"/>
<path d="M374 399 375 405 378 400" fill="none" stroke="#000" stroke-width="0.99" shape-rendering="crispEdges"/>
<path d="M306 135 311 137 317 138 323 137" fill="none" stroke="#000" stroke-width="0.99" shape-rendering="crispEdges"/>
<path d="M382 40 387 41 394 39" fill="none" stroke="#000" stroke-width="0.99" shape-rendering="crispEdges"/>
<path d="M425 44 428 46" fill="none" stroke="#000" stroke-width="0.99" shape-rendering="crispEdges"/>
</g>
<g shape-rendering="crispEdges">
<rect x="154" y="37" width="422" height="429" fill="none" stroke="#000" stroke-width="2"/>
<path d="M168.5 38v5M168.5 465v-5M195.5 38v5M195.5 465v-5M222.5 38v5M222.5 465v-5M250.5 38v5M250.5 465v-5M277.5 38v5M277.5 465v-5M304.5 38v5M304.5 465v-5M331.5 38v5M331.5 465v-5M358.5 38v5M358.5 465v-5M386.5 38v5M386.5 465v-5M413.5 38v5M413.5 465v-5M440.5 38v5M440.5 465v-5M467.5 38v5M467.5 465v-5M494.5 38v5M494.5 465v-5M522.5 38v5M522.5 465v-5M549.5 38v5M549.5 465v-5M576.5 38v5M576.5 465v-5M155 439.5h5M575 439.5h-4M155 411.5h5M575 411.5h-4M155 384.5h5M575 384.5h-4M155 357.5h5M575 357.5h-4M155 329.5h5M575 329.5h-4M155 301.5h5M575 301.5h-4M155 273.5h5M575 273.5h-4M155 245.5h5M575 245.5h-4M155 217.5h5M575 217.5h-4M155 188.5h5M575 188.5h-4M155 158.5h5M575 158.5h-4M155 129.5h5M575 129.5h-4M155 99.5h5M575 99.5h-4M155 68.5h5M575 68.5h-4" stroke="#000" stroke-width="1" fill="none"/>
</g>
</svg>
<div class="t" style="left:238px;top:9px;font-size:13px">Significant Wave Height with Wave Direction</div>
<div class="t" style="left:273.5px;top:21.8px;font-size:12px;font-style:italic">Valid For Nov-25-2018 18:00 GMT</div>
<div class="t i" style="left:157.5px;top:474px">100 E</div>
<div class="t i" style="left:226px;top:474px">105 E</div>
<div class="t i" style="left:294px;top:474px">110 E</div>
<div class="t i" style="left:362px;top:474px">115 E</div>
<div class="t i" style="left:430px;top:474px">120 E</div>
<div class="t i" style="left:496.7px;top:474px">125 E</div>
<div class="t i" style="left:564.7px;top:474px">130 E</div>
<div class="t i" style="left:584px;top:32.5px">30 N</div>
<div class="t i" style="left:584px;top:109.5px">25 N</div>
<div class="t i" style="left:584px;top:182.5px">20 N</div>
<div class="t i" style="left:584px;top:253.5px">15 N</div>
<div class="t i" style="left:584px;top:323.5px">10 N</div>
<div class="t i" style="left:584px;top:391.5px">5 N</div>
<div class="t i" style="left:584px;top:459.5px">0</div>
<div class="t" style="left:155.5px;top:487.5px;font-size:11px;letter-spacing:0.03px">oceanweather inc.</div>
<div class="t" style="left:458px;top:487.5px;font-size:7.4px;font-style:italic">Plotted at Nov 25, 2018 15:04 GMT</div>
<div class="t" style="left:295.6px;top:501.4px;font-size:9.5px">Significant Wave Height (Meters)</div>
<div class="t" style="left:300.5px;top:549px;font-size:9.5px">Significant Wave Height (Feet)</div>
<div class="t n" style="left:246.0px;top:513.3px">0</div>
<div class="t n" style="left:266.1px;top:513.3px">1</div>
<div class="t n" style="left:286.2px;top:513.3px">2</div>
<div class="t n" style="left:306.3px;top:513.3px">3</div>
<div class="t n" style="left:326.4px;top:513.3px">4</div>
<div class="t n" style="left:346.5px;top:513.3px">5</div>
<div class="t n" style="left:366.6px;top:513.3px">6</div>
<div class="t n" style="left:386.7px;top:513.3px">7</div>
<div class="t n" style="left:406.8px;top:513.3px">8</div>
<div class="t n" style="left:426.9px;top:513.3px">9</div>
<div class="t n" style="left:447.0px;top:513.3px">10</div>
<div class="t n" style="left:467.1px;top:513.3px">11</div>
<div class="t n" style="left:487.2px;top:513.3px">12</div>
<div class="t n" style="left:246.0px;top:537.4px">0</div>
<div class="t n" style="left:276.1px;top:537.4px">5</div>
<div class="t n" style="left:306.2px;top:537.4px">10</div>
<div class="t n" style="left:336.3px;top:537.4px">15</div>
<div class="t n" style="left:366.4px;top:537.4px">20</div>
<div class="t n" style="left:396.5px;top:537.4px">25</div>
<div class="t n" style="left:426.6px;top:537.4px">30</div>
<div class="t n" style="left:456.7px;top:537.4px">35</div>
<div class="t n" style="left:486.8px;top:537.4px">40</div>
<div id="bar"></div>
</body></html>
